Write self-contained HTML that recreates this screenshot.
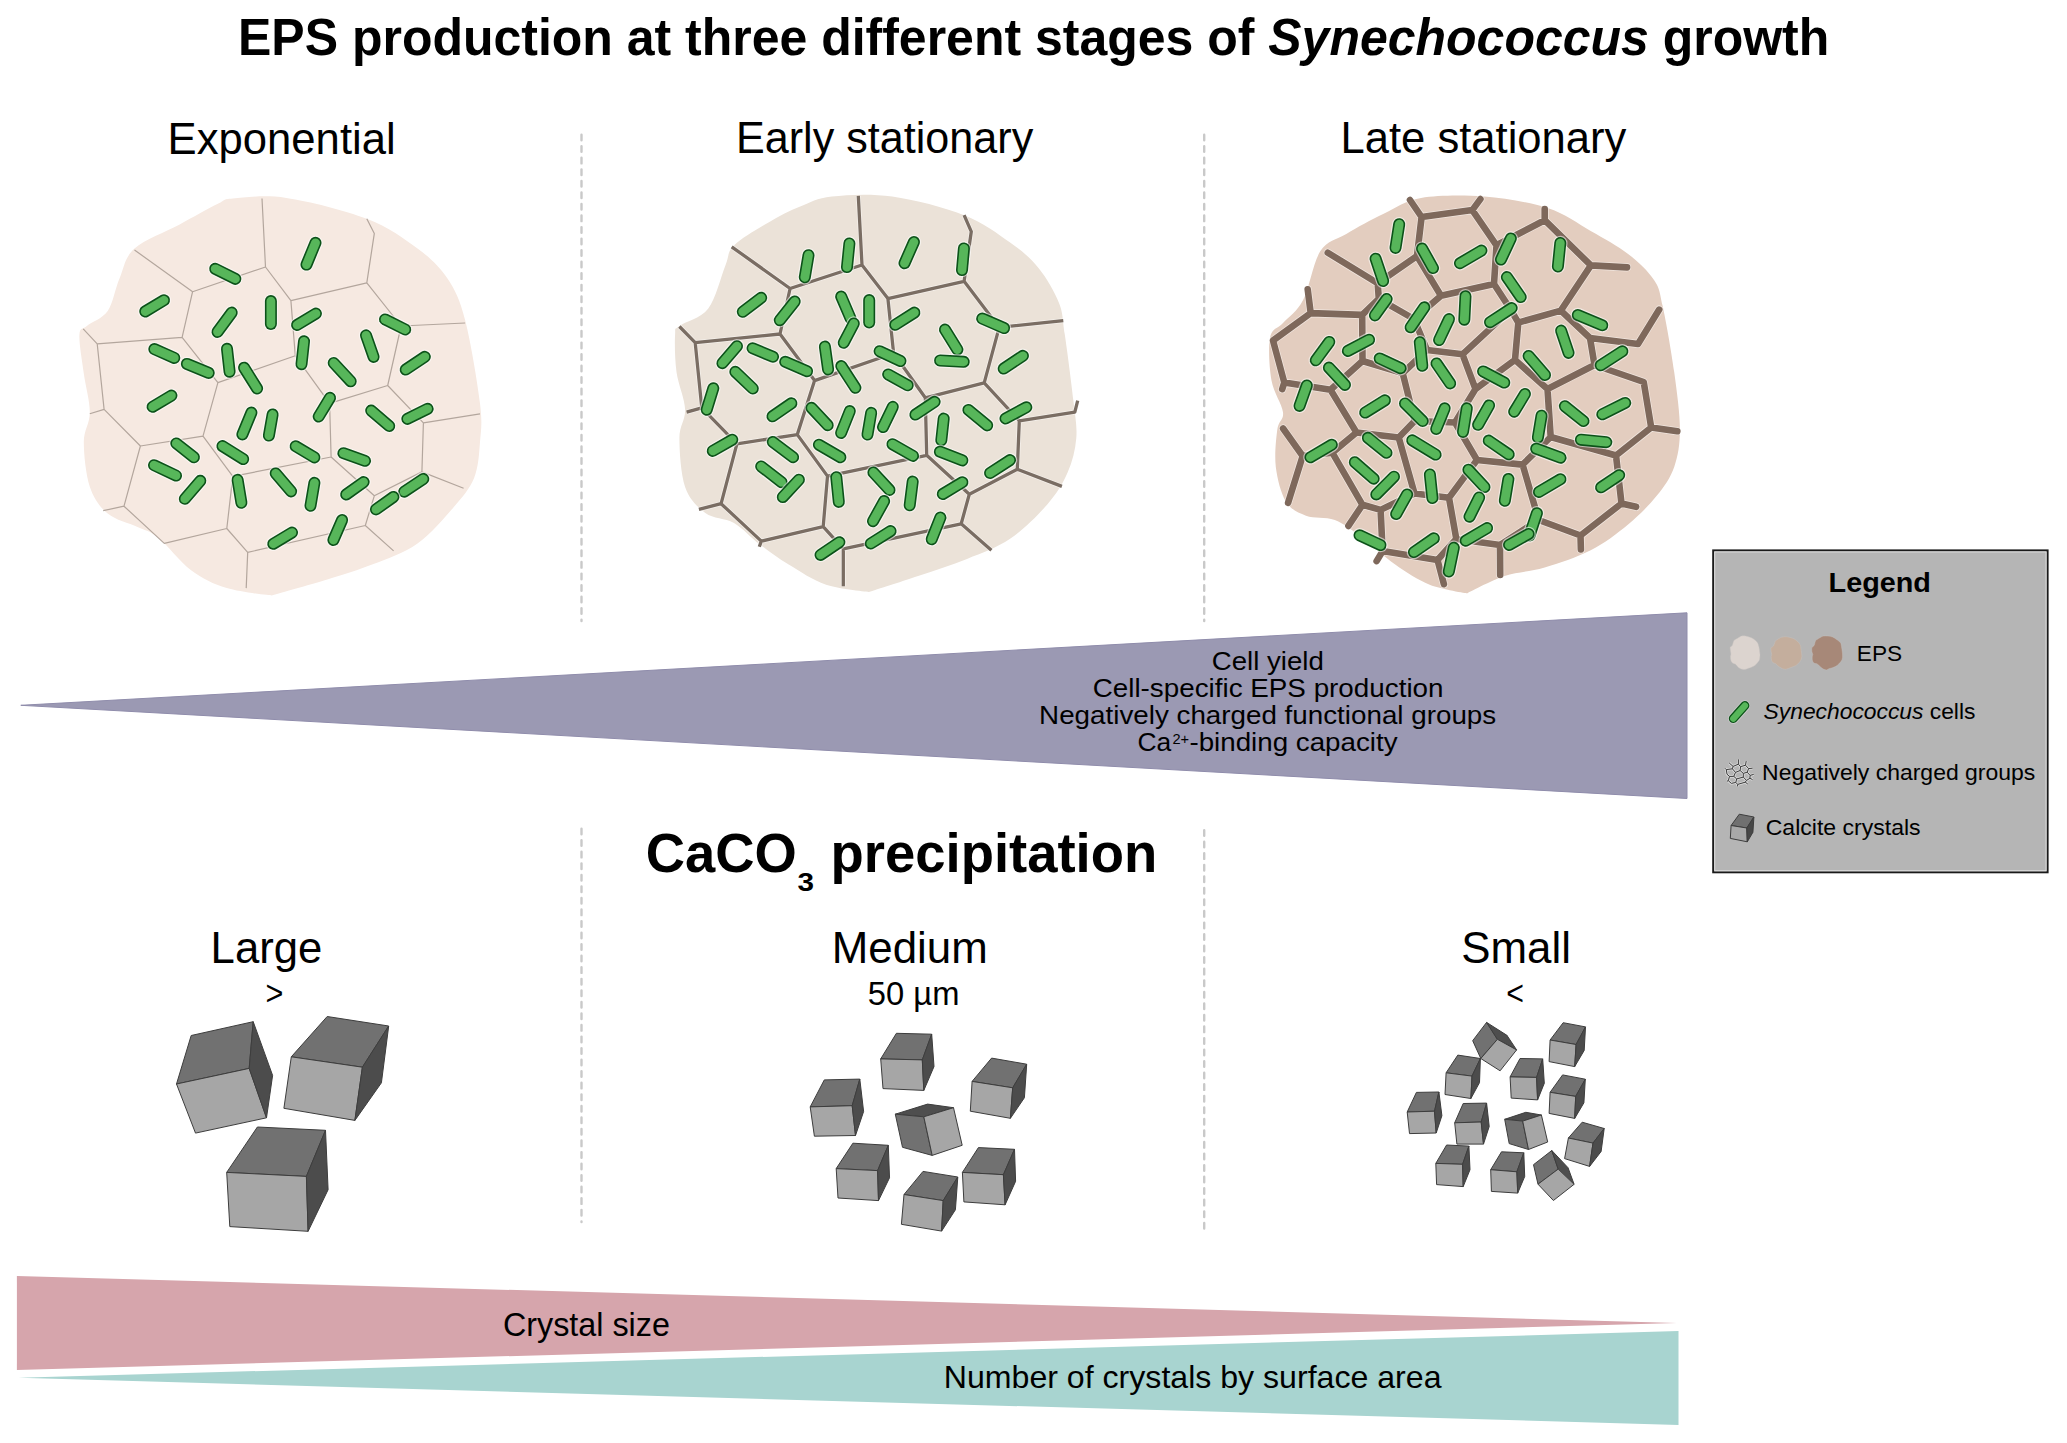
<!DOCTYPE html><html><head><meta charset="utf-8"><style>html,body{margin:0;padding:0;background:#fff;overflow:hidden}svg{display:block}text{font-family:"Liberation Sans",sans-serif}</style></head><body>
<svg width="2067" height="1443" viewBox="0 0 2067 1443">
<rect width="2067" height="1443" fill="#fff"/>
<text x="238" y="55.4" font-size="51.5" fill="#000" textLength="1591.3" lengthAdjust="spacingAndGlyphs" xml:space="preserve"><tspan font-style="normal" font-weight="bold">EPS production at three different stages of </tspan><tspan font-style="italic" font-weight="bold">Synechococcus</tspan><tspan font-style="normal" font-weight="bold"> growth</tspan></text>
<text x="167.6" y="153.7" font-size="43.5" fill="#000" textLength="228.1" lengthAdjust="spacingAndGlyphs" xml:space="preserve"><tspan font-style="normal" font-weight="normal">Exponential</tspan></text>
<text x="736" y="153" font-size="43.5" fill="#000" textLength="297.2" lengthAdjust="spacingAndGlyphs" xml:space="preserve"><tspan font-style="normal" font-weight="normal">Early stationary</tspan></text>
<text x="1340.5" y="152.8" font-size="43.5" fill="#000" textLength="285.8" lengthAdjust="spacingAndGlyphs" xml:space="preserve"><tspan font-style="normal" font-weight="normal">Late stationary</tspan></text>
<line x1="581.5" y1="134.7" x2="581.5" y2="621" stroke="#c9c9c9" stroke-width="2.4" stroke-dasharray="5.6 5.95" stroke-linecap="round"/>
<line x1="1204.2" y1="134.7" x2="1204.2" y2="621" stroke="#c9c9c9" stroke-width="2.4" stroke-dasharray="5.6 5.95" stroke-linecap="round"/>
<line x1="581.5" y1="828.7" x2="581.5" y2="1222" stroke="#c9c9c9" stroke-width="2.4" stroke-dasharray="5.6 5.95" stroke-linecap="round"/>
<line x1="1204.2" y1="830.2" x2="1204.2" y2="1233" stroke="#c9c9c9" stroke-width="2.4" stroke-dasharray="5.6 5.95" stroke-linecap="round"/>
<path d="M232.8,198.5 C244.2,197.5 264.1,194.5 286.4,197.9 C308.7,201.2 345,210.3 366.8,218.7 C388.7,227.2 404.1,238.6 417.5,248.5 C430.9,258.4 439.3,266.4 447.3,278.3 C455.2,290.2 459.7,299.2 465.1,320 C470.6,340.9 477.5,383.1 480,403.4 C482.5,423.8 481,429.7 480,442.1 C479,454.6 478.5,467 474.1,477.9 C469.6,488.8 462.6,496.8 453.2,507.7 C443.8,518.6 430.9,534 417.5,543.4 C404.1,552.9 387.7,558.3 372.8,564.3 C357.9,570.2 345,574 328.1,579.2 C311.2,584.4 271.5,595.5 271.5,595.5 C271.5,595.5 240.2,592.3 226.8,588.1 C213.4,583.9 202.5,578.7 191.1,570.2 C179.7,561.8 167.2,544.7 158.3,537.5 C149.4,530.3 145.9,531 137.5,527 C129,523.1 115.6,520.3 107.7,513.6 C99.7,506.9 93.8,498.7 89.8,486.8 C85.8,474.9 83.8,454.6 83.8,442.1 C83.8,429.7 89.8,423.8 89.8,412.4 C89.8,400.9 85.6,386.5 83.8,373.6 C82.1,360.7 78.9,342.8 79.4,334.9 C79.9,327 82.1,329.9 86.8,326 C91.5,322 102.2,319 107.7,311.1 C113.1,303.1 115.1,288.7 119.6,278.3 C124,267.9 124.5,257.5 134.5,248.5 C144.4,239.6 165.3,232.1 179.2,224.7 C193.1,217.2 208.9,208.2 217.9,203.8 C226.8,199.5 221.4,199.5 232.8,198.5 Z" fill="#f6e9e1"/>
<path d="M262,198.5 L265.5,267 L192.6,291.7 L134.5,250 M192.6,291.7 L182.1,337.3 L97.2,343.8 L83.2,328.9 M97.2,343.8 L104.1,409.4 L89.8,413.8 M104.1,409.4 L140.4,446 L203,436.2 M140.4,446 L124,506.2 L103.2,510.7 M124,506.2 L164.3,543.4 L226.8,528.5 L247.7,552.4 L246.2,588.1 M247.7,552.4 L365.3,525.5 L393.6,550.9 M365.3,525.5 L374.3,495.8 L421.9,471.9 L463.6,488.3 M421.9,471.9 L423.4,422.8 L480,413.8 M423.4,422.8 L387.7,385.5 L401.1,326 L465.1,323 M401.1,326 L366.8,282.8 L374.3,233.6 L366.8,218.7 M366.8,282.8 L290.9,300.6 L265.5,267 M290.9,300.6 L295.3,355.8 L217.9,382.6 L182.1,337.3 M217.9,382.6 L203,436.2 L232.8,476.4 L226.8,528.5 M232.8,476.4 L331.1,457 L374.3,495.8 M331.1,457 L329.6,403.4 L387.7,385.5 M329.6,403.4 L295.3,355.8" fill="none" stroke="#b3a69d" stroke-width="1.2" stroke-linejoin="round" stroke-linecap="butt"/>
<line x1="315.5" y1="242.8" x2="306.5" y2="264.6" stroke="#fff" stroke-opacity="0.55" stroke-width="14.4" stroke-linecap="round"/>
<line x1="315.5" y1="242.8" x2="306.5" y2="264.6" stroke="#0c5219" stroke-width="12.0" stroke-linecap="round"/>
<line x1="315.5" y1="242.8" x2="306.5" y2="264.6" stroke="#57b65a" stroke-width="8.8" stroke-linecap="round"/>
<line x1="215.2" y1="268.8" x2="235.4" y2="278.9" stroke="#fff" stroke-opacity="0.55" stroke-width="14.4" stroke-linecap="round"/>
<line x1="215.2" y1="268.8" x2="235.4" y2="278.9" stroke="#0c5219" stroke-width="12.0" stroke-linecap="round"/>
<line x1="215.2" y1="268.8" x2="235.4" y2="278.9" stroke="#57b65a" stroke-width="8.8" stroke-linecap="round"/>
<line x1="164" y1="300.2" x2="145.2" y2="311.5" stroke="#fff" stroke-opacity="0.55" stroke-width="14.4" stroke-linecap="round"/>
<line x1="164" y1="300.2" x2="145.2" y2="311.5" stroke="#0c5219" stroke-width="12.0" stroke-linecap="round"/>
<line x1="164" y1="300.2" x2="145.2" y2="311.5" stroke="#57b65a" stroke-width="8.8" stroke-linecap="round"/>
<line x1="270.9" y1="301.1" x2="270.9" y2="324" stroke="#fff" stroke-opacity="0.55" stroke-width="14.4" stroke-linecap="round"/>
<line x1="270.9" y1="301.1" x2="270.9" y2="324" stroke="#0c5219" stroke-width="12.0" stroke-linecap="round"/>
<line x1="270.9" y1="301.1" x2="270.9" y2="324" stroke="#57b65a" stroke-width="8.8" stroke-linecap="round"/>
<line x1="231.7" y1="312.6" x2="217.5" y2="331.9" stroke="#fff" stroke-opacity="0.55" stroke-width="14.4" stroke-linecap="round"/>
<line x1="231.7" y1="312.6" x2="217.5" y2="331.9" stroke="#0c5219" stroke-width="12.0" stroke-linecap="round"/>
<line x1="231.7" y1="312.6" x2="217.5" y2="331.9" stroke="#57b65a" stroke-width="8.8" stroke-linecap="round"/>
<line x1="315.9" y1="313.6" x2="297.1" y2="324.9" stroke="#fff" stroke-opacity="0.55" stroke-width="14.4" stroke-linecap="round"/>
<line x1="315.9" y1="313.6" x2="297.1" y2="324.9" stroke="#0c5219" stroke-width="12.0" stroke-linecap="round"/>
<line x1="315.9" y1="313.6" x2="297.1" y2="324.9" stroke="#57b65a" stroke-width="8.8" stroke-linecap="round"/>
<line x1="385" y1="319.4" x2="405.2" y2="329.5" stroke="#fff" stroke-opacity="0.55" stroke-width="14.4" stroke-linecap="round"/>
<line x1="385" y1="319.4" x2="405.2" y2="329.5" stroke="#0c5219" stroke-width="12.0" stroke-linecap="round"/>
<line x1="385" y1="319.4" x2="405.2" y2="329.5" stroke="#57b65a" stroke-width="8.8" stroke-linecap="round"/>
<line x1="154.3" y1="349.1" x2="174.3" y2="357.9" stroke="#fff" stroke-opacity="0.55" stroke-width="14.4" stroke-linecap="round"/>
<line x1="154.3" y1="349.1" x2="174.3" y2="357.9" stroke="#0c5219" stroke-width="12.0" stroke-linecap="round"/>
<line x1="154.3" y1="349.1" x2="174.3" y2="357.9" stroke="#57b65a" stroke-width="8.8" stroke-linecap="round"/>
<line x1="186.9" y1="363.9" x2="208.7" y2="372.9" stroke="#fff" stroke-opacity="0.55" stroke-width="14.4" stroke-linecap="round"/>
<line x1="186.9" y1="363.9" x2="208.7" y2="372.9" stroke="#0c5219" stroke-width="12.0" stroke-linecap="round"/>
<line x1="186.9" y1="363.9" x2="208.7" y2="372.9" stroke="#57b65a" stroke-width="8.8" stroke-linecap="round"/>
<line x1="227" y1="348.8" x2="229.6" y2="371.7" stroke="#fff" stroke-opacity="0.55" stroke-width="14.4" stroke-linecap="round"/>
<line x1="227" y1="348.8" x2="229.6" y2="371.7" stroke="#0c5219" stroke-width="12.0" stroke-linecap="round"/>
<line x1="227" y1="348.8" x2="229.6" y2="371.7" stroke="#57b65a" stroke-width="8.8" stroke-linecap="round"/>
<line x1="304" y1="341.3" x2="301.5" y2="364.2" stroke="#fff" stroke-opacity="0.55" stroke-width="14.4" stroke-linecap="round"/>
<line x1="304" y1="341.3" x2="301.5" y2="364.2" stroke="#0c5219" stroke-width="12.0" stroke-linecap="round"/>
<line x1="304" y1="341.3" x2="301.5" y2="364.2" stroke="#57b65a" stroke-width="8.8" stroke-linecap="round"/>
<line x1="366" y1="335.3" x2="373.6" y2="356.9" stroke="#fff" stroke-opacity="0.55" stroke-width="14.4" stroke-linecap="round"/>
<line x1="366" y1="335.3" x2="373.6" y2="356.9" stroke="#0c5219" stroke-width="12.0" stroke-linecap="round"/>
<line x1="366" y1="335.3" x2="373.6" y2="356.9" stroke="#57b65a" stroke-width="8.8" stroke-linecap="round"/>
<line x1="424.8" y1="356.8" x2="405.7" y2="369.6" stroke="#fff" stroke-opacity="0.55" stroke-width="14.4" stroke-linecap="round"/>
<line x1="424.8" y1="356.8" x2="405.7" y2="369.6" stroke="#0c5219" stroke-width="12.0" stroke-linecap="round"/>
<line x1="424.8" y1="356.8" x2="405.7" y2="369.6" stroke="#57b65a" stroke-width="8.8" stroke-linecap="round"/>
<line x1="244.1" y1="367.7" x2="257.1" y2="388.5" stroke="#fff" stroke-opacity="0.55" stroke-width="14.4" stroke-linecap="round"/>
<line x1="244.1" y1="367.7" x2="257.1" y2="388.5" stroke="#0c5219" stroke-width="12.0" stroke-linecap="round"/>
<line x1="244.1" y1="367.7" x2="257.1" y2="388.5" stroke="#57b65a" stroke-width="8.8" stroke-linecap="round"/>
<line x1="333.7" y1="363" x2="350.7" y2="381.3" stroke="#fff" stroke-opacity="0.55" stroke-width="14.4" stroke-linecap="round"/>
<line x1="333.7" y1="363" x2="350.7" y2="381.3" stroke="#0c5219" stroke-width="12.0" stroke-linecap="round"/>
<line x1="333.7" y1="363" x2="350.7" y2="381.3" stroke="#57b65a" stroke-width="8.8" stroke-linecap="round"/>
<line x1="171.4" y1="395.6" x2="152.6" y2="406.8" stroke="#fff" stroke-opacity="0.55" stroke-width="14.4" stroke-linecap="round"/>
<line x1="171.4" y1="395.6" x2="152.6" y2="406.8" stroke="#0c5219" stroke-width="12.0" stroke-linecap="round"/>
<line x1="171.4" y1="395.6" x2="152.6" y2="406.8" stroke="#57b65a" stroke-width="8.8" stroke-linecap="round"/>
<line x1="330" y1="397.8" x2="318.7" y2="416.5" stroke="#fff" stroke-opacity="0.55" stroke-width="14.4" stroke-linecap="round"/>
<line x1="330" y1="397.8" x2="318.7" y2="416.5" stroke="#0c5219" stroke-width="12.0" stroke-linecap="round"/>
<line x1="330" y1="397.8" x2="318.7" y2="416.5" stroke="#57b65a" stroke-width="8.8" stroke-linecap="round"/>
<line x1="251.4" y1="412.6" x2="242.4" y2="434.4" stroke="#fff" stroke-opacity="0.55" stroke-width="14.4" stroke-linecap="round"/>
<line x1="251.4" y1="412.6" x2="242.4" y2="434.4" stroke="#0c5219" stroke-width="12.0" stroke-linecap="round"/>
<line x1="251.4" y1="412.6" x2="242.4" y2="434.4" stroke="#57b65a" stroke-width="8.8" stroke-linecap="round"/>
<line x1="272.6" y1="414.5" x2="268.9" y2="435.6" stroke="#fff" stroke-opacity="0.55" stroke-width="14.4" stroke-linecap="round"/>
<line x1="272.6" y1="414.5" x2="268.9" y2="435.6" stroke="#0c5219" stroke-width="12.0" stroke-linecap="round"/>
<line x1="272.6" y1="414.5" x2="268.9" y2="435.6" stroke="#57b65a" stroke-width="8.8" stroke-linecap="round"/>
<line x1="371.2" y1="410.6" x2="389.2" y2="426" stroke="#fff" stroke-opacity="0.55" stroke-width="14.4" stroke-linecap="round"/>
<line x1="371.2" y1="410.6" x2="389.2" y2="426" stroke="#0c5219" stroke-width="12.0" stroke-linecap="round"/>
<line x1="371.2" y1="410.6" x2="389.2" y2="426" stroke="#57b65a" stroke-width="8.8" stroke-linecap="round"/>
<line x1="427.6" y1="408.8" x2="407.3" y2="418.9" stroke="#fff" stroke-opacity="0.55" stroke-width="14.4" stroke-linecap="round"/>
<line x1="427.6" y1="408.8" x2="407.3" y2="418.9" stroke="#0c5219" stroke-width="12.0" stroke-linecap="round"/>
<line x1="427.6" y1="408.8" x2="407.3" y2="418.9" stroke="#57b65a" stroke-width="8.8" stroke-linecap="round"/>
<line x1="176.3" y1="443.4" x2="193.9" y2="457.3" stroke="#fff" stroke-opacity="0.55" stroke-width="14.4" stroke-linecap="round"/>
<line x1="176.3" y1="443.4" x2="193.9" y2="457.3" stroke="#0c5219" stroke-width="12.0" stroke-linecap="round"/>
<line x1="176.3" y1="443.4" x2="193.9" y2="457.3" stroke="#57b65a" stroke-width="8.8" stroke-linecap="round"/>
<line x1="222.4" y1="446.1" x2="243.2" y2="459.1" stroke="#fff" stroke-opacity="0.55" stroke-width="14.4" stroke-linecap="round"/>
<line x1="222.4" y1="446.1" x2="243.2" y2="459.1" stroke="#0c5219" stroke-width="12.0" stroke-linecap="round"/>
<line x1="222.4" y1="446.1" x2="243.2" y2="459.1" stroke="#57b65a" stroke-width="8.8" stroke-linecap="round"/>
<line x1="295.6" y1="446.2" x2="314.4" y2="457.4" stroke="#fff" stroke-opacity="0.55" stroke-width="14.4" stroke-linecap="round"/>
<line x1="295.6" y1="446.2" x2="314.4" y2="457.4" stroke="#0c5219" stroke-width="12.0" stroke-linecap="round"/>
<line x1="295.6" y1="446.2" x2="314.4" y2="457.4" stroke="#57b65a" stroke-width="8.8" stroke-linecap="round"/>
<line x1="343.4" y1="453.2" x2="365" y2="460.8" stroke="#fff" stroke-opacity="0.55" stroke-width="14.4" stroke-linecap="round"/>
<line x1="343.4" y1="453.2" x2="365" y2="460.8" stroke="#0c5219" stroke-width="12.0" stroke-linecap="round"/>
<line x1="343.4" y1="453.2" x2="365" y2="460.8" stroke="#57b65a" stroke-width="8.8" stroke-linecap="round"/>
<line x1="154" y1="465.2" x2="176" y2="475.6" stroke="#fff" stroke-opacity="0.55" stroke-width="14.4" stroke-linecap="round"/>
<line x1="154" y1="465.2" x2="176" y2="475.6" stroke="#0c5219" stroke-width="12.0" stroke-linecap="round"/>
<line x1="154" y1="465.2" x2="176" y2="475.6" stroke="#57b65a" stroke-width="8.8" stroke-linecap="round"/>
<line x1="200.3" y1="480.8" x2="184.8" y2="498.8" stroke="#fff" stroke-opacity="0.55" stroke-width="14.4" stroke-linecap="round"/>
<line x1="200.3" y1="480.8" x2="184.8" y2="498.8" stroke="#0c5219" stroke-width="12.0" stroke-linecap="round"/>
<line x1="200.3" y1="480.8" x2="184.8" y2="498.8" stroke="#57b65a" stroke-width="8.8" stroke-linecap="round"/>
<line x1="237.6" y1="479.8" x2="241.4" y2="502.8" stroke="#fff" stroke-opacity="0.55" stroke-width="14.4" stroke-linecap="round"/>
<line x1="237.6" y1="479.8" x2="241.4" y2="502.8" stroke="#0c5219" stroke-width="12.0" stroke-linecap="round"/>
<line x1="237.6" y1="479.8" x2="241.4" y2="502.8" stroke="#57b65a" stroke-width="8.8" stroke-linecap="round"/>
<line x1="275.7" y1="473.4" x2="291.1" y2="491.4" stroke="#fff" stroke-opacity="0.55" stroke-width="14.4" stroke-linecap="round"/>
<line x1="275.7" y1="473.4" x2="291.1" y2="491.4" stroke="#0c5219" stroke-width="12.0" stroke-linecap="round"/>
<line x1="275.7" y1="473.4" x2="291.1" y2="491.4" stroke="#57b65a" stroke-width="8.8" stroke-linecap="round"/>
<line x1="314.4" y1="482.8" x2="310.5" y2="505.8" stroke="#fff" stroke-opacity="0.55" stroke-width="14.4" stroke-linecap="round"/>
<line x1="314.4" y1="482.8" x2="310.5" y2="505.8" stroke="#0c5219" stroke-width="12.0" stroke-linecap="round"/>
<line x1="314.4" y1="482.8" x2="310.5" y2="505.8" stroke="#57b65a" stroke-width="8.8" stroke-linecap="round"/>
<line x1="363.6" y1="482.1" x2="346.2" y2="494.5" stroke="#fff" stroke-opacity="0.55" stroke-width="14.4" stroke-linecap="round"/>
<line x1="363.6" y1="482.1" x2="346.2" y2="494.5" stroke="#0c5219" stroke-width="12.0" stroke-linecap="round"/>
<line x1="363.6" y1="482.1" x2="346.2" y2="494.5" stroke="#57b65a" stroke-width="8.8" stroke-linecap="round"/>
<line x1="423.3" y1="479" x2="404.2" y2="491.7" stroke="#fff" stroke-opacity="0.55" stroke-width="14.4" stroke-linecap="round"/>
<line x1="423.3" y1="479" x2="404.2" y2="491.7" stroke="#0c5219" stroke-width="12.0" stroke-linecap="round"/>
<line x1="423.3" y1="479" x2="404.2" y2="491.7" stroke="#57b65a" stroke-width="8.8" stroke-linecap="round"/>
<line x1="393.4" y1="497" x2="376" y2="509.4" stroke="#fff" stroke-opacity="0.55" stroke-width="14.4" stroke-linecap="round"/>
<line x1="393.4" y1="497" x2="376" y2="509.4" stroke="#0c5219" stroke-width="12.0" stroke-linecap="round"/>
<line x1="393.4" y1="497" x2="376" y2="509.4" stroke="#57b65a" stroke-width="8.8" stroke-linecap="round"/>
<line x1="342.1" y1="520" x2="333.4" y2="540" stroke="#fff" stroke-opacity="0.55" stroke-width="14.4" stroke-linecap="round"/>
<line x1="342.1" y1="520" x2="333.4" y2="540" stroke="#0c5219" stroke-width="12.0" stroke-linecap="round"/>
<line x1="342.1" y1="520" x2="333.4" y2="540" stroke="#57b65a" stroke-width="8.8" stroke-linecap="round"/>
<line x1="292" y1="532.6" x2="273.3" y2="543.8" stroke="#fff" stroke-opacity="0.55" stroke-width="14.4" stroke-linecap="round"/>
<line x1="292" y1="532.6" x2="273.3" y2="543.8" stroke="#0c5219" stroke-width="12.0" stroke-linecap="round"/>
<line x1="292" y1="532.6" x2="273.3" y2="543.8" stroke="#57b65a" stroke-width="8.8" stroke-linecap="round"/>
<path d="M831.8,196.5 C847.1,194.8 870.2,193.4 892.2,196.5 C914.3,199.6 944.5,207.5 964.1,215.2 C983.8,222.9 997.7,233.7 1010.1,242.5 C1022.6,251.4 1030.7,258.3 1038.9,268.4 C1047,278.5 1054.7,291.9 1059,302.9 C1063.3,313.9 1062.4,318.3 1064.8,334.6 C1067.2,350.9 1071.5,383.4 1073.4,400.7 C1075.3,418 1077.2,426.1 1076.3,438.1 C1075.3,450.1 1072.4,461.6 1067.6,472.6 C1062.9,483.6 1057.1,493.2 1047.5,504.2 C1037.9,515.3 1023.5,529.6 1010.1,538.8 C996.7,547.9 982.3,552.7 967,558.9 C951.6,565.1 934.4,570.6 918.1,576.1 C901.8,581.7 869.2,592 869.2,592 C869.2,592 839.5,589.3 826.1,584.8 C812.6,580.2 799.7,571.3 788.7,564.6 C777.6,557.9 769,551.5 759.9,544.5 C750.8,537.6 743.1,528.2 734,522.9 C724.9,517.7 713.4,518.9 705.3,512.9 C697.1,506.9 689.4,499.4 685.1,487 C680.8,474.5 679.4,451 679.4,438.1 C679.4,425.1 685.6,420.4 685.1,409.3 C684.7,398.3 678.2,384.4 676.5,371.9 C674.8,359.5 674.6,342.2 675.1,334.6 C675.5,326.9 673.9,330.2 679.4,325.9 C684.9,321.6 700.5,318.7 708.1,308.7 C715.8,298.6 721.1,276.1 725.4,265.5 C729.7,255 726.8,252.6 734,245.4 C741.2,238.2 757.5,228.9 768.5,222.4 C779.6,215.9 789.6,210.9 800.2,206.6 C810.7,202.3 816.5,198.2 831.8,196.5 Z" fill="#ebe2d8"/>
<path d="M858.3,195.9 L862,265 L790.1,288.5 L731.7,246.8 M790.1,288.5 L780,334 L695.2,342.6 L679.4,326.5 M695.2,342.6 L701.8,407.9 L686.6,412.2 M701.8,407.9 L736.9,443.8 L797.3,434.6 M736.9,443.8 L721.1,503.7 L698.9,509.4 M721.1,503.7 L761.3,541.1 L759.3,546.8 M761.3,541.1 L823.2,526.7 L843.3,548.8 L843.3,586.2 M843.3,548.8 L961.2,523.8 L991.4,550.3 M961.2,523.8 L969.3,494.2 L1017.3,469.2 L1061.9,486.4 M1017.3,469.2 L1019.3,420.8 L1074.8,412.2 L1077.7,400.7 M1019.3,420.8 L984.2,382.9 L999.2,327.4 L1063.3,320.7 M999.2,327.4 L964.1,281.3 L971.3,231.6 L964.1,215.2 M964.1,281.3 L887.9,298.6 L862,265 M887.9,298.6 L893.6,353.2 L814.6,380.6 L780,334 M814.6,380.6 L797.3,434.6 L827.5,476.1 L823.2,526.7 M827.5,476.1 L926.7,455.3 L969.3,494.2 M926.7,455.3 L925.3,397.8 L984.2,382.9 M925.3,397.8 L893.6,353.2" fill="none" stroke="#fff" stroke-opacity="0.5" stroke-width="4.8" stroke-linejoin="round" stroke-linecap="butt"/>
<path d="M858.3,195.9 L862,265 L790.1,288.5 L731.7,246.8 M790.1,288.5 L780,334 L695.2,342.6 L679.4,326.5 M695.2,342.6 L701.8,407.9 L686.6,412.2 M701.8,407.9 L736.9,443.8 L797.3,434.6 M736.9,443.8 L721.1,503.7 L698.9,509.4 M721.1,503.7 L761.3,541.1 L759.3,546.8 M761.3,541.1 L823.2,526.7 L843.3,548.8 L843.3,586.2 M843.3,548.8 L961.2,523.8 L991.4,550.3 M961.2,523.8 L969.3,494.2 L1017.3,469.2 L1061.9,486.4 M1017.3,469.2 L1019.3,420.8 L1074.8,412.2 L1077.7,400.7 M1019.3,420.8 L984.2,382.9 L999.2,327.4 L1063.3,320.7 M999.2,327.4 L964.1,281.3 L971.3,231.6 L964.1,215.2 M964.1,281.3 L887.9,298.6 L862,265 M887.9,298.6 L893.6,353.2 L814.6,380.6 L780,334 M814.6,380.6 L797.3,434.6 L827.5,476.1 L823.2,526.7 M827.5,476.1 L926.7,455.3 L969.3,494.2 M926.7,455.3 L925.3,397.8 L984.2,382.9 M925.3,397.8 L893.6,353.2" fill="none" stroke="#7a6d63" stroke-width="3.3" stroke-linejoin="round" stroke-linecap="butt"/>
<line x1="913.9" y1="242" x2="904.5" y2="263.2" stroke="#fff" stroke-opacity="0.55" stroke-width="14.4" stroke-linecap="round"/>
<line x1="913.9" y1="242" x2="904.5" y2="263.2" stroke="#0c5219" stroke-width="12.0" stroke-linecap="round"/>
<line x1="913.9" y1="242" x2="904.5" y2="263.2" stroke="#57b65a" stroke-width="8.8" stroke-linecap="round"/>
<line x1="808.5" y1="255.2" x2="804.8" y2="277.3" stroke="#fff" stroke-opacity="0.55" stroke-width="14.4" stroke-linecap="round"/>
<line x1="808.5" y1="255.2" x2="804.8" y2="277.3" stroke="#0c5219" stroke-width="12.0" stroke-linecap="round"/>
<line x1="808.5" y1="255.2" x2="804.8" y2="277.3" stroke="#57b65a" stroke-width="8.8" stroke-linecap="round"/>
<line x1="849.4" y1="243.5" x2="847" y2="267.1" stroke="#fff" stroke-opacity="0.55" stroke-width="14.4" stroke-linecap="round"/>
<line x1="849.4" y1="243.5" x2="847" y2="267.1" stroke="#0c5219" stroke-width="12.0" stroke-linecap="round"/>
<line x1="849.4" y1="243.5" x2="847" y2="267.1" stroke="#57b65a" stroke-width="8.8" stroke-linecap="round"/>
<line x1="963.9" y1="248.4" x2="962" y2="270.1" stroke="#fff" stroke-opacity="0.55" stroke-width="14.4" stroke-linecap="round"/>
<line x1="963.9" y1="248.4" x2="962" y2="270.1" stroke="#0c5219" stroke-width="12.0" stroke-linecap="round"/>
<line x1="963.9" y1="248.4" x2="962" y2="270.1" stroke="#57b65a" stroke-width="8.8" stroke-linecap="round"/>
<line x1="761.2" y1="297.8" x2="742.8" y2="311.8" stroke="#fff" stroke-opacity="0.55" stroke-width="14.4" stroke-linecap="round"/>
<line x1="761.2" y1="297.8" x2="742.8" y2="311.8" stroke="#0c5219" stroke-width="12.0" stroke-linecap="round"/>
<line x1="761.2" y1="297.8" x2="742.8" y2="311.8" stroke="#57b65a" stroke-width="8.8" stroke-linecap="round"/>
<line x1="794.7" y1="301.5" x2="779.8" y2="320.2" stroke="#fff" stroke-opacity="0.55" stroke-width="14.4" stroke-linecap="round"/>
<line x1="794.7" y1="301.5" x2="779.8" y2="320.2" stroke="#0c5219" stroke-width="12.0" stroke-linecap="round"/>
<line x1="794.7" y1="301.5" x2="779.8" y2="320.2" stroke="#57b65a" stroke-width="8.8" stroke-linecap="round"/>
<line x1="841.2" y1="296.6" x2="850.6" y2="318.5" stroke="#fff" stroke-opacity="0.55" stroke-width="14.4" stroke-linecap="round"/>
<line x1="841.2" y1="296.6" x2="850.6" y2="318.5" stroke="#0c5219" stroke-width="12.0" stroke-linecap="round"/>
<line x1="841.2" y1="296.6" x2="850.6" y2="318.5" stroke="#57b65a" stroke-width="8.8" stroke-linecap="round"/>
<line x1="869.2" y1="300.1" x2="869.2" y2="322.5" stroke="#fff" stroke-opacity="0.55" stroke-width="14.4" stroke-linecap="round"/>
<line x1="869.2" y1="300.1" x2="869.2" y2="322.5" stroke="#0c5219" stroke-width="12.0" stroke-linecap="round"/>
<line x1="869.2" y1="300.1" x2="869.2" y2="322.5" stroke="#57b65a" stroke-width="8.8" stroke-linecap="round"/>
<line x1="853.8" y1="323.5" x2="843.7" y2="342.8" stroke="#fff" stroke-opacity="0.55" stroke-width="14.4" stroke-linecap="round"/>
<line x1="853.8" y1="323.5" x2="843.7" y2="342.8" stroke="#0c5219" stroke-width="12.0" stroke-linecap="round"/>
<line x1="853.8" y1="323.5" x2="843.7" y2="342.8" stroke="#57b65a" stroke-width="8.8" stroke-linecap="round"/>
<line x1="914.4" y1="312.6" x2="895.3" y2="324.8" stroke="#fff" stroke-opacity="0.55" stroke-width="14.4" stroke-linecap="round"/>
<line x1="914.4" y1="312.6" x2="895.3" y2="324.8" stroke="#0c5219" stroke-width="12.0" stroke-linecap="round"/>
<line x1="914.4" y1="312.6" x2="895.3" y2="324.8" stroke="#57b65a" stroke-width="8.8" stroke-linecap="round"/>
<line x1="982.2" y1="318.6" x2="1004.1" y2="328.1" stroke="#fff" stroke-opacity="0.55" stroke-width="14.4" stroke-linecap="round"/>
<line x1="982.2" y1="318.6" x2="1004.1" y2="328.1" stroke="#0c5219" stroke-width="12.0" stroke-linecap="round"/>
<line x1="982.2" y1="318.6" x2="1004.1" y2="328.1" stroke="#57b65a" stroke-width="8.8" stroke-linecap="round"/>
<line x1="945" y1="329.6" x2="957.4" y2="349.6" stroke="#fff" stroke-opacity="0.55" stroke-width="14.4" stroke-linecap="round"/>
<line x1="945" y1="329.6" x2="957.4" y2="349.6" stroke="#0c5219" stroke-width="12.0" stroke-linecap="round"/>
<line x1="945" y1="329.6" x2="957.4" y2="349.6" stroke="#57b65a" stroke-width="8.8" stroke-linecap="round"/>
<line x1="737" y1="346.2" x2="722.4" y2="363.2" stroke="#fff" stroke-opacity="0.55" stroke-width="14.4" stroke-linecap="round"/>
<line x1="737" y1="346.2" x2="722.4" y2="363.2" stroke="#0c5219" stroke-width="12.0" stroke-linecap="round"/>
<line x1="737" y1="346.2" x2="722.4" y2="363.2" stroke="#57b65a" stroke-width="8.8" stroke-linecap="round"/>
<line x1="752.6" y1="348.3" x2="773" y2="356.8" stroke="#fff" stroke-opacity="0.55" stroke-width="14.4" stroke-linecap="round"/>
<line x1="752.6" y1="348.3" x2="773" y2="356.8" stroke="#0c5219" stroke-width="12.0" stroke-linecap="round"/>
<line x1="752.6" y1="348.3" x2="773" y2="356.8" stroke="#57b65a" stroke-width="8.8" stroke-linecap="round"/>
<line x1="785.2" y1="361.8" x2="807.1" y2="371.2" stroke="#fff" stroke-opacity="0.55" stroke-width="14.4" stroke-linecap="round"/>
<line x1="785.2" y1="361.8" x2="807.1" y2="371.2" stroke="#0c5219" stroke-width="12.0" stroke-linecap="round"/>
<line x1="785.2" y1="361.8" x2="807.1" y2="371.2" stroke="#57b65a" stroke-width="8.8" stroke-linecap="round"/>
<line x1="824.9" y1="346.6" x2="828.1" y2="369.4" stroke="#fff" stroke-opacity="0.55" stroke-width="14.4" stroke-linecap="round"/>
<line x1="824.9" y1="346.6" x2="828.1" y2="369.4" stroke="#0c5219" stroke-width="12.0" stroke-linecap="round"/>
<line x1="824.9" y1="346.6" x2="828.1" y2="369.4" stroke="#57b65a" stroke-width="8.8" stroke-linecap="round"/>
<line x1="879.6" y1="351.2" x2="900.5" y2="361" stroke="#fff" stroke-opacity="0.55" stroke-width="14.4" stroke-linecap="round"/>
<line x1="879.6" y1="351.2" x2="900.5" y2="361" stroke="#0c5219" stroke-width="12.0" stroke-linecap="round"/>
<line x1="879.6" y1="351.2" x2="900.5" y2="361" stroke="#57b65a" stroke-width="8.8" stroke-linecap="round"/>
<line x1="940.1" y1="360.5" x2="963.7" y2="361.8" stroke="#fff" stroke-opacity="0.55" stroke-width="14.4" stroke-linecap="round"/>
<line x1="940.1" y1="360.5" x2="963.7" y2="361.8" stroke="#0c5219" stroke-width="12.0" stroke-linecap="round"/>
<line x1="940.1" y1="360.5" x2="963.7" y2="361.8" stroke="#57b65a" stroke-width="8.8" stroke-linecap="round"/>
<line x1="1022.9" y1="355.8" x2="1003.7" y2="368.6" stroke="#fff" stroke-opacity="0.55" stroke-width="14.4" stroke-linecap="round"/>
<line x1="1022.9" y1="355.8" x2="1003.7" y2="368.6" stroke="#0c5219" stroke-width="12.0" stroke-linecap="round"/>
<line x1="1022.9" y1="355.8" x2="1003.7" y2="368.6" stroke="#57b65a" stroke-width="8.8" stroke-linecap="round"/>
<line x1="735.3" y1="371.8" x2="752.8" y2="388.5" stroke="#fff" stroke-opacity="0.55" stroke-width="14.4" stroke-linecap="round"/>
<line x1="735.3" y1="371.8" x2="752.8" y2="388.5" stroke="#0c5219" stroke-width="12.0" stroke-linecap="round"/>
<line x1="735.3" y1="371.8" x2="752.8" y2="388.5" stroke="#57b65a" stroke-width="8.8" stroke-linecap="round"/>
<line x1="841.3" y1="366.1" x2="855.4" y2="387.8" stroke="#fff" stroke-opacity="0.55" stroke-width="14.4" stroke-linecap="round"/>
<line x1="841.3" y1="366.1" x2="855.4" y2="387.8" stroke="#0c5219" stroke-width="12.0" stroke-linecap="round"/>
<line x1="841.3" y1="366.1" x2="855.4" y2="387.8" stroke="#57b65a" stroke-width="8.8" stroke-linecap="round"/>
<line x1="888.2" y1="374.4" x2="907.7" y2="385.3" stroke="#fff" stroke-opacity="0.55" stroke-width="14.4" stroke-linecap="round"/>
<line x1="888.2" y1="374.4" x2="907.7" y2="385.3" stroke="#0c5219" stroke-width="12.0" stroke-linecap="round"/>
<line x1="888.2" y1="374.4" x2="907.7" y2="385.3" stroke="#57b65a" stroke-width="8.8" stroke-linecap="round"/>
<line x1="713.3" y1="388.3" x2="706.7" y2="409.7" stroke="#fff" stroke-opacity="0.55" stroke-width="14.4" stroke-linecap="round"/>
<line x1="713.3" y1="388.3" x2="706.7" y2="409.7" stroke="#0c5219" stroke-width="12.0" stroke-linecap="round"/>
<line x1="713.3" y1="388.3" x2="706.7" y2="409.7" stroke="#57b65a" stroke-width="8.8" stroke-linecap="round"/>
<line x1="791.4" y1="403.3" x2="772.5" y2="416.3" stroke="#fff" stroke-opacity="0.55" stroke-width="14.4" stroke-linecap="round"/>
<line x1="791.4" y1="403.3" x2="772.5" y2="416.3" stroke="#0c5219" stroke-width="12.0" stroke-linecap="round"/>
<line x1="791.4" y1="403.3" x2="772.5" y2="416.3" stroke="#57b65a" stroke-width="8.8" stroke-linecap="round"/>
<line x1="811.5" y1="407.8" x2="827.7" y2="425.2" stroke="#fff" stroke-opacity="0.55" stroke-width="14.4" stroke-linecap="round"/>
<line x1="811.5" y1="407.8" x2="827.7" y2="425.2" stroke="#0c5219" stroke-width="12.0" stroke-linecap="round"/>
<line x1="811.5" y1="407.8" x2="827.7" y2="425.2" stroke="#57b65a" stroke-width="8.8" stroke-linecap="round"/>
<line x1="849.8" y1="411.1" x2="841.1" y2="432.9" stroke="#fff" stroke-opacity="0.55" stroke-width="14.4" stroke-linecap="round"/>
<line x1="849.8" y1="411.1" x2="841.1" y2="432.9" stroke="#0c5219" stroke-width="12.0" stroke-linecap="round"/>
<line x1="849.8" y1="411.1" x2="841.1" y2="432.9" stroke="#57b65a" stroke-width="8.8" stroke-linecap="round"/>
<line x1="871.2" y1="412.8" x2="867.5" y2="434.6" stroke="#fff" stroke-opacity="0.55" stroke-width="14.4" stroke-linecap="round"/>
<line x1="871.2" y1="412.8" x2="867.5" y2="434.6" stroke="#0c5219" stroke-width="12.0" stroke-linecap="round"/>
<line x1="871.2" y1="412.8" x2="867.5" y2="434.6" stroke="#57b65a" stroke-width="8.8" stroke-linecap="round"/>
<line x1="892.8" y1="406.8" x2="883" y2="427.1" stroke="#fff" stroke-opacity="0.55" stroke-width="14.4" stroke-linecap="round"/>
<line x1="892.8" y1="406.8" x2="883" y2="427.1" stroke="#0c5219" stroke-width="12.0" stroke-linecap="round"/>
<line x1="892.8" y1="406.8" x2="883" y2="427.1" stroke="#57b65a" stroke-width="8.8" stroke-linecap="round"/>
<line x1="934.6" y1="401.8" x2="915.4" y2="414.6" stroke="#fff" stroke-opacity="0.55" stroke-width="14.4" stroke-linecap="round"/>
<line x1="934.6" y1="401.8" x2="915.4" y2="414.6" stroke="#0c5219" stroke-width="12.0" stroke-linecap="round"/>
<line x1="934.6" y1="401.8" x2="915.4" y2="414.6" stroke="#57b65a" stroke-width="8.8" stroke-linecap="round"/>
<line x1="943.7" y1="418.6" x2="941.3" y2="440.3" stroke="#fff" stroke-opacity="0.55" stroke-width="14.4" stroke-linecap="round"/>
<line x1="943.7" y1="418.6" x2="941.3" y2="440.3" stroke="#0c5219" stroke-width="12.0" stroke-linecap="round"/>
<line x1="943.7" y1="418.6" x2="941.3" y2="440.3" stroke="#57b65a" stroke-width="8.8" stroke-linecap="round"/>
<line x1="968.4" y1="409.9" x2="987.2" y2="425.4" stroke="#fff" stroke-opacity="0.55" stroke-width="14.4" stroke-linecap="round"/>
<line x1="968.4" y1="409.9" x2="987.2" y2="425.4" stroke="#0c5219" stroke-width="12.0" stroke-linecap="round"/>
<line x1="968.4" y1="409.9" x2="987.2" y2="425.4" stroke="#57b65a" stroke-width="8.8" stroke-linecap="round"/>
<line x1="1026.3" y1="407.3" x2="1005.5" y2="418.5" stroke="#fff" stroke-opacity="0.55" stroke-width="14.4" stroke-linecap="round"/>
<line x1="1026.3" y1="407.3" x2="1005.5" y2="418.5" stroke="#0c5219" stroke-width="12.0" stroke-linecap="round"/>
<line x1="1026.3" y1="407.3" x2="1005.5" y2="418.5" stroke="#57b65a" stroke-width="8.8" stroke-linecap="round"/>
<line x1="732.3" y1="439.7" x2="712.8" y2="450.9" stroke="#fff" stroke-opacity="0.55" stroke-width="14.4" stroke-linecap="round"/>
<line x1="732.3" y1="439.7" x2="712.8" y2="450.9" stroke="#0c5219" stroke-width="12.0" stroke-linecap="round"/>
<line x1="732.3" y1="439.7" x2="712.8" y2="450.9" stroke="#57b65a" stroke-width="8.8" stroke-linecap="round"/>
<line x1="772.8" y1="442" x2="793.1" y2="457.2" stroke="#fff" stroke-opacity="0.55" stroke-width="14.4" stroke-linecap="round"/>
<line x1="772.8" y1="442" x2="793.1" y2="457.2" stroke="#0c5219" stroke-width="12.0" stroke-linecap="round"/>
<line x1="772.8" y1="442" x2="793.1" y2="457.2" stroke="#57b65a" stroke-width="8.8" stroke-linecap="round"/>
<line x1="818.9" y1="444.7" x2="840.4" y2="457.3" stroke="#fff" stroke-opacity="0.55" stroke-width="14.4" stroke-linecap="round"/>
<line x1="818.9" y1="444.7" x2="840.4" y2="457.3" stroke="#0c5219" stroke-width="12.0" stroke-linecap="round"/>
<line x1="818.9" y1="444.7" x2="840.4" y2="457.3" stroke="#57b65a" stroke-width="8.8" stroke-linecap="round"/>
<line x1="892.4" y1="444.2" x2="913" y2="455.9" stroke="#fff" stroke-opacity="0.55" stroke-width="14.4" stroke-linecap="round"/>
<line x1="892.4" y1="444.2" x2="913" y2="455.9" stroke="#0c5219" stroke-width="12.0" stroke-linecap="round"/>
<line x1="892.4" y1="444.2" x2="913" y2="455.9" stroke="#57b65a" stroke-width="8.8" stroke-linecap="round"/>
<line x1="939.9" y1="451.7" x2="962.4" y2="460.4" stroke="#fff" stroke-opacity="0.55" stroke-width="14.4" stroke-linecap="round"/>
<line x1="939.9" y1="451.7" x2="962.4" y2="460.4" stroke="#0c5219" stroke-width="12.0" stroke-linecap="round"/>
<line x1="939.9" y1="451.7" x2="962.4" y2="460.4" stroke="#57b65a" stroke-width="8.8" stroke-linecap="round"/>
<line x1="1010" y1="460.1" x2="990.1" y2="473" stroke="#fff" stroke-opacity="0.55" stroke-width="14.4" stroke-linecap="round"/>
<line x1="1010" y1="460.1" x2="990.1" y2="473" stroke="#0c5219" stroke-width="12.0" stroke-linecap="round"/>
<line x1="1010" y1="460.1" x2="990.1" y2="473" stroke="#57b65a" stroke-width="8.8" stroke-linecap="round"/>
<line x1="761.2" y1="466.4" x2="781.6" y2="482.2" stroke="#fff" stroke-opacity="0.55" stroke-width="14.4" stroke-linecap="round"/>
<line x1="761.2" y1="466.4" x2="781.6" y2="482.2" stroke="#0c5219" stroke-width="12.0" stroke-linecap="round"/>
<line x1="761.2" y1="466.4" x2="781.6" y2="482.2" stroke="#57b65a" stroke-width="8.8" stroke-linecap="round"/>
<line x1="798.9" y1="479.7" x2="782.8" y2="497.1" stroke="#fff" stroke-opacity="0.55" stroke-width="14.4" stroke-linecap="round"/>
<line x1="798.9" y1="479.7" x2="782.8" y2="497.1" stroke="#0c5219" stroke-width="12.0" stroke-linecap="round"/>
<line x1="798.9" y1="479.7" x2="782.8" y2="497.1" stroke="#57b65a" stroke-width="8.8" stroke-linecap="round"/>
<line x1="836.3" y1="477.2" x2="838.8" y2="501.9" stroke="#fff" stroke-opacity="0.55" stroke-width="14.4" stroke-linecap="round"/>
<line x1="836.3" y1="477.2" x2="838.8" y2="501.9" stroke="#0c5219" stroke-width="12.0" stroke-linecap="round"/>
<line x1="836.3" y1="477.2" x2="838.8" y2="501.9" stroke="#57b65a" stroke-width="8.8" stroke-linecap="round"/>
<line x1="873.4" y1="472.5" x2="889.5" y2="489.9" stroke="#fff" stroke-opacity="0.55" stroke-width="14.4" stroke-linecap="round"/>
<line x1="873.4" y1="472.5" x2="889.5" y2="489.9" stroke="#0c5219" stroke-width="12.0" stroke-linecap="round"/>
<line x1="873.4" y1="472.5" x2="889.5" y2="489.9" stroke="#57b65a" stroke-width="8.8" stroke-linecap="round"/>
<line x1="912.7" y1="481.6" x2="909.7" y2="505.3" stroke="#fff" stroke-opacity="0.55" stroke-width="14.4" stroke-linecap="round"/>
<line x1="912.7" y1="481.6" x2="909.7" y2="505.3" stroke="#0c5219" stroke-width="12.0" stroke-linecap="round"/>
<line x1="912.7" y1="481.6" x2="909.7" y2="505.3" stroke="#57b65a" stroke-width="8.8" stroke-linecap="round"/>
<line x1="962.4" y1="482.2" x2="942.8" y2="494" stroke="#fff" stroke-opacity="0.55" stroke-width="14.4" stroke-linecap="round"/>
<line x1="962.4" y1="482.2" x2="942.8" y2="494" stroke="#0c5219" stroke-width="12.0" stroke-linecap="round"/>
<line x1="962.4" y1="482.2" x2="942.8" y2="494" stroke="#57b65a" stroke-width="8.8" stroke-linecap="round"/>
<line x1="884.1" y1="501.1" x2="873" y2="521.2" stroke="#fff" stroke-opacity="0.55" stroke-width="14.4" stroke-linecap="round"/>
<line x1="884.1" y1="501.1" x2="873" y2="521.2" stroke="#0c5219" stroke-width="12.0" stroke-linecap="round"/>
<line x1="884.1" y1="501.1" x2="873" y2="521.2" stroke="#57b65a" stroke-width="8.8" stroke-linecap="round"/>
<line x1="940.4" y1="517.5" x2="931.7" y2="539.3" stroke="#fff" stroke-opacity="0.55" stroke-width="14.4" stroke-linecap="round"/>
<line x1="940.4" y1="517.5" x2="931.7" y2="539.3" stroke="#0c5219" stroke-width="12.0" stroke-linecap="round"/>
<line x1="940.4" y1="517.5" x2="931.7" y2="539.3" stroke="#57b65a" stroke-width="8.8" stroke-linecap="round"/>
<line x1="890.6" y1="531.1" x2="870.8" y2="543.5" stroke="#fff" stroke-opacity="0.55" stroke-width="14.4" stroke-linecap="round"/>
<line x1="890.6" y1="531.1" x2="870.8" y2="543.5" stroke="#0c5219" stroke-width="12.0" stroke-linecap="round"/>
<line x1="890.6" y1="531.1" x2="870.8" y2="543.5" stroke="#57b65a" stroke-width="8.8" stroke-linecap="round"/>
<line x1="839.4" y1="542.2" x2="820.5" y2="554.9" stroke="#fff" stroke-opacity="0.55" stroke-width="14.4" stroke-linecap="round"/>
<line x1="839.4" y1="542.2" x2="820.5" y2="554.9" stroke="#0c5219" stroke-width="12.0" stroke-linecap="round"/>
<line x1="839.4" y1="542.2" x2="820.5" y2="554.9" stroke="#57b65a" stroke-width="8.8" stroke-linecap="round"/>
<path d="M1421.1,197.9 C1437.8,195.1 1463.2,194.8 1484.3,196.5 C1505.4,198.2 1529.9,202.3 1547.6,208 C1565.3,213.8 1577.3,223.3 1590.7,231 C1604.2,238.7 1617.6,245.9 1628.1,254 C1638.7,262.2 1648.3,271.3 1654,279.9 C1659.8,288.5 1659.3,290.5 1662.6,305.8 C1666,321.1 1671.3,351.3 1674.2,371.9 C1677,392.6 1679.9,413.6 1679.9,429.5 C1679.9,445.3 1678,455.8 1674.2,466.9 C1670.3,477.9 1664.6,486 1656.9,495.6 C1649.2,505.2 1639.2,515.3 1628.1,524.4 C1617.1,533.5 1604.6,543.1 1590.7,550.3 C1576.8,557.4 1559.1,563.2 1544.7,567.5 C1530.3,571.8 1517.4,571.8 1504.5,576.1 C1491.5,580.5 1467.1,593.4 1467.1,593.4 C1467.1,593.4 1441.7,589.6 1429.7,584.8 C1417.7,580 1406.2,572.3 1395.2,564.6 C1384.1,557 1373.6,546.2 1363.5,538.8 C1353.5,531.3 1344.4,523.9 1334.8,520.1 C1325.2,516.2 1314.2,518.9 1306,515.7 C1297.9,512.6 1290.9,509.5 1285.9,501.4 C1280.9,493.2 1277.3,478.8 1275.8,466.9 C1274.4,454.9 1276.1,438.6 1277.3,429.5 C1278.5,420.4 1284,420.4 1283,412.2 C1282,404.1 1273.7,393 1271.5,380.6 C1269.3,368.1 1268.1,347 1270.1,337.4 C1272,327.8 1277.5,329.3 1283,323.1 C1288.5,316.8 1296.9,312 1303.1,300 C1309.4,288.1 1313.2,262.2 1320.4,251.1 C1327.6,240.1 1335.7,240.1 1346.3,233.9 C1356.8,227.7 1371.2,219.8 1383.7,213.8 C1396.1,207.8 1404.3,200.8 1421.1,197.9 Z" fill="#e3cdbf"/>
<path d="M1410,200 L1421.6,217 L1472.3,210.1 L1480.4,199.1 M1421.6,217 L1417,256 M1327.8,252.8 L1377.7,283.3 L1417,256 M1417,256 L1441,295.7 M1377.7,283.3 L1378.8,298.8 L1362.2,314.9 L1310.7,313.1 L1273,340.5 L1284.3,382.5 L1330.5,389.7 M1310.7,313.1 L1307.7,289.3 M1284.3,382.5 L1282.2,389.2 M1378.8,298.8 L1414,319 L1441,295.7 M1362.2,314.9 L1362.5,361 L1330.5,389.7 M1414,319 L1427,350 M1362.5,361 L1402.7,373.2 L1427,350 L1462.5,354.3 L1475.5,389 L1515,359.9 M1402.7,373.2 L1414.7,421 L1455,422.5 L1475.5,389 M1441,295.7 L1494,284 L1510.7,309.6 L1518.3,322.6 L1515,359.9 L1547.5,389 L1594.5,365 L1590,338 L1560.8,310.6 L1518.3,322.6 M1510.7,309.6 L1462.5,354.3 M1494,284 L1496.5,245.3 L1472.3,210.1 M1496.5,245.3 L1544.7,220.2 L1544.7,209.1 M1544.7,220.2 L1590.9,265.4 L1627.1,267.4 M1590.9,265.4 L1560.8,310.6 M1590,338 L1638,344 L1659.2,309.6 M1594.5,365 L1643.7,382 L1651.2,427.5 L1677.3,431.2 M1651.2,427.5 L1616,455.5 L1550.7,437 L1547.5,389 M1616,455.5 L1621.5,503.5 L1636.1,506.8 M1621.5,503.5 L1580.5,535.5 L1580.9,549.5 M1580.5,535.5 L1538.7,520 L1500,545 L1500.2,575 M1538.7,520 L1522.6,464.6 L1477,460 L1455,422.5 M1522.6,464.6 L1550.7,437 M1477,460 L1449,497.8 L1414.5,493.5 L1398.7,437.5 L1356.5,432.5 L1330.5,389.7 M1398.7,437.5 L1414.7,421 M1356.5,432.5 L1332.3,452.6 L1302.7,456 L1283.1,428.5 M1302.7,456 L1288.1,502.8 M1332.3,452.6 L1362.5,504.8 L1348.4,525.9 M1362.5,504.8 L1380.6,509.9 L1414.5,493.5 M1380.6,509.9 L1382.6,551.1 L1376.6,561.1 M1382.6,551.1 L1437.5,560 L1443.9,584.2 M1437.5,560 L1456.3,539 L1449,497.8 M1456.3,539 L1500,545" fill="none" stroke="#fff" stroke-opacity="0.5" stroke-width="8.1" stroke-linejoin="round" stroke-linecap="round"/>
<path d="M1410,200 L1421.6,217 L1472.3,210.1 L1480.4,199.1 M1421.6,217 L1417,256 M1327.8,252.8 L1377.7,283.3 L1417,256 M1417,256 L1441,295.7 M1377.7,283.3 L1378.8,298.8 L1362.2,314.9 L1310.7,313.1 L1273,340.5 L1284.3,382.5 L1330.5,389.7 M1310.7,313.1 L1307.7,289.3 M1284.3,382.5 L1282.2,389.2 M1378.8,298.8 L1414,319 L1441,295.7 M1362.2,314.9 L1362.5,361 L1330.5,389.7 M1414,319 L1427,350 M1362.5,361 L1402.7,373.2 L1427,350 L1462.5,354.3 L1475.5,389 L1515,359.9 M1402.7,373.2 L1414.7,421 L1455,422.5 L1475.5,389 M1441,295.7 L1494,284 L1510.7,309.6 L1518.3,322.6 L1515,359.9 L1547.5,389 L1594.5,365 L1590,338 L1560.8,310.6 L1518.3,322.6 M1510.7,309.6 L1462.5,354.3 M1494,284 L1496.5,245.3 L1472.3,210.1 M1496.5,245.3 L1544.7,220.2 L1544.7,209.1 M1544.7,220.2 L1590.9,265.4 L1627.1,267.4 M1590.9,265.4 L1560.8,310.6 M1590,338 L1638,344 L1659.2,309.6 M1594.5,365 L1643.7,382 L1651.2,427.5 L1677.3,431.2 M1651.2,427.5 L1616,455.5 L1550.7,437 L1547.5,389 M1616,455.5 L1621.5,503.5 L1636.1,506.8 M1621.5,503.5 L1580.5,535.5 L1580.9,549.5 M1580.5,535.5 L1538.7,520 L1500,545 L1500.2,575 M1538.7,520 L1522.6,464.6 L1477,460 L1455,422.5 M1522.6,464.6 L1550.7,437 M1477,460 L1449,497.8 L1414.5,493.5 L1398.7,437.5 L1356.5,432.5 L1330.5,389.7 M1398.7,437.5 L1414.7,421 M1356.5,432.5 L1332.3,452.6 L1302.7,456 L1283.1,428.5 M1302.7,456 L1288.1,502.8 M1332.3,452.6 L1362.5,504.8 L1348.4,525.9 M1362.5,504.8 L1380.6,509.9 L1414.5,493.5 M1380.6,509.9 L1382.6,551.1 L1376.6,561.1 M1382.6,551.1 L1437.5,560 L1443.9,584.2 M1437.5,560 L1456.3,539 L1449,497.8 M1456.3,539 L1500,545" fill="none" stroke="#7e685b" stroke-width="6.6" stroke-linejoin="round" stroke-linecap="round"/>
<line x1="1399.2" y1="224.2" x2="1395.5" y2="247.9" stroke="#fff" stroke-opacity="0.55" stroke-width="14.4" stroke-linecap="round"/>
<line x1="1399.2" y1="224.2" x2="1395.5" y2="247.9" stroke="#0c5219" stroke-width="12.0" stroke-linecap="round"/>
<line x1="1399.2" y1="224.2" x2="1395.5" y2="247.9" stroke="#57b65a" stroke-width="8.8" stroke-linecap="round"/>
<line x1="1375.6" y1="258.7" x2="1383.1" y2="281" stroke="#fff" stroke-opacity="0.55" stroke-width="14.4" stroke-linecap="round"/>
<line x1="1375.6" y1="258.7" x2="1383.1" y2="281" stroke="#0c5219" stroke-width="12.0" stroke-linecap="round"/>
<line x1="1375.6" y1="258.7" x2="1383.1" y2="281" stroke="#57b65a" stroke-width="8.8" stroke-linecap="round"/>
<line x1="1422.1" y1="248.6" x2="1433" y2="268.1" stroke="#fff" stroke-opacity="0.55" stroke-width="14.4" stroke-linecap="round"/>
<line x1="1422.1" y1="248.6" x2="1433" y2="268.1" stroke="#0c5219" stroke-width="12.0" stroke-linecap="round"/>
<line x1="1422.1" y1="248.6" x2="1433" y2="268.1" stroke="#57b65a" stroke-width="8.8" stroke-linecap="round"/>
<line x1="1481.4" y1="250.6" x2="1460" y2="263.2" stroke="#fff" stroke-opacity="0.55" stroke-width="14.4" stroke-linecap="round"/>
<line x1="1481.4" y1="250.6" x2="1460" y2="263.2" stroke="#0c5219" stroke-width="12.0" stroke-linecap="round"/>
<line x1="1481.4" y1="250.6" x2="1460" y2="263.2" stroke="#57b65a" stroke-width="8.8" stroke-linecap="round"/>
<line x1="1510.8" y1="238.5" x2="1501" y2="259.5" stroke="#fff" stroke-opacity="0.55" stroke-width="14.4" stroke-linecap="round"/>
<line x1="1510.8" y1="238.5" x2="1501" y2="259.5" stroke="#0c5219" stroke-width="12.0" stroke-linecap="round"/>
<line x1="1510.8" y1="238.5" x2="1501" y2="259.5" stroke="#57b65a" stroke-width="8.8" stroke-linecap="round"/>
<line x1="1560.3" y1="243" x2="1557.9" y2="266.5" stroke="#fff" stroke-opacity="0.55" stroke-width="14.4" stroke-linecap="round"/>
<line x1="1560.3" y1="243" x2="1557.9" y2="266.5" stroke="#0c5219" stroke-width="12.0" stroke-linecap="round"/>
<line x1="1560.3" y1="243" x2="1557.9" y2="266.5" stroke="#57b65a" stroke-width="8.8" stroke-linecap="round"/>
<line x1="1506.9" y1="277.1" x2="1520.7" y2="297.1" stroke="#fff" stroke-opacity="0.55" stroke-width="14.4" stroke-linecap="round"/>
<line x1="1506.9" y1="277.1" x2="1520.7" y2="297.1" stroke="#0c5219" stroke-width="12.0" stroke-linecap="round"/>
<line x1="1506.9" y1="277.1" x2="1520.7" y2="297.1" stroke="#57b65a" stroke-width="8.8" stroke-linecap="round"/>
<line x1="1386.7" y1="299" x2="1374.9" y2="315.4" stroke="#fff" stroke-opacity="0.55" stroke-width="14.4" stroke-linecap="round"/>
<line x1="1386.7" y1="299" x2="1374.9" y2="315.4" stroke="#0c5219" stroke-width="12.0" stroke-linecap="round"/>
<line x1="1386.7" y1="299" x2="1374.9" y2="315.4" stroke="#57b65a" stroke-width="8.8" stroke-linecap="round"/>
<line x1="1424.3" y1="307.3" x2="1410.6" y2="327.3" stroke="#fff" stroke-opacity="0.55" stroke-width="14.4" stroke-linecap="round"/>
<line x1="1424.3" y1="307.3" x2="1410.6" y2="327.3" stroke="#0c5219" stroke-width="12.0" stroke-linecap="round"/>
<line x1="1424.3" y1="307.3" x2="1410.6" y2="327.3" stroke="#57b65a" stroke-width="8.8" stroke-linecap="round"/>
<line x1="1465.5" y1="296.2" x2="1464.3" y2="319.7" stroke="#fff" stroke-opacity="0.55" stroke-width="14.4" stroke-linecap="round"/>
<line x1="1465.5" y1="296.2" x2="1464.3" y2="319.7" stroke="#0c5219" stroke-width="12.0" stroke-linecap="round"/>
<line x1="1465.5" y1="296.2" x2="1464.3" y2="319.7" stroke="#57b65a" stroke-width="8.8" stroke-linecap="round"/>
<line x1="1511.7" y1="308.1" x2="1490" y2="322.2" stroke="#fff" stroke-opacity="0.55" stroke-width="14.4" stroke-linecap="round"/>
<line x1="1511.7" y1="308.1" x2="1490" y2="322.2" stroke="#0c5219" stroke-width="12.0" stroke-linecap="round"/>
<line x1="1511.7" y1="308.1" x2="1490" y2="322.2" stroke="#57b65a" stroke-width="8.8" stroke-linecap="round"/>
<line x1="1577.8" y1="315" x2="1602.3" y2="325.3" stroke="#fff" stroke-opacity="0.55" stroke-width="14.4" stroke-linecap="round"/>
<line x1="1577.8" y1="315" x2="1602.3" y2="325.3" stroke="#0c5219" stroke-width="12.0" stroke-linecap="round"/>
<line x1="1577.8" y1="315" x2="1602.3" y2="325.3" stroke="#57b65a" stroke-width="8.8" stroke-linecap="round"/>
<line x1="1449" y1="319.1" x2="1439.1" y2="340" stroke="#fff" stroke-opacity="0.55" stroke-width="14.4" stroke-linecap="round"/>
<line x1="1449" y1="319.1" x2="1439.1" y2="340" stroke="#0c5219" stroke-width="12.0" stroke-linecap="round"/>
<line x1="1449" y1="319.1" x2="1439.1" y2="340" stroke="#57b65a" stroke-width="8.8" stroke-linecap="round"/>
<line x1="1329.3" y1="341.9" x2="1315.8" y2="360.3" stroke="#fff" stroke-opacity="0.55" stroke-width="14.4" stroke-linecap="round"/>
<line x1="1329.3" y1="341.9" x2="1315.8" y2="360.3" stroke="#0c5219" stroke-width="12.0" stroke-linecap="round"/>
<line x1="1329.3" y1="341.9" x2="1315.8" y2="360.3" stroke="#57b65a" stroke-width="8.8" stroke-linecap="round"/>
<line x1="1369.1" y1="339.7" x2="1347.9" y2="350.9" stroke="#fff" stroke-opacity="0.55" stroke-width="14.4" stroke-linecap="round"/>
<line x1="1369.1" y1="339.7" x2="1347.9" y2="350.9" stroke="#0c5219" stroke-width="12.0" stroke-linecap="round"/>
<line x1="1369.1" y1="339.7" x2="1347.9" y2="350.9" stroke="#57b65a" stroke-width="8.8" stroke-linecap="round"/>
<line x1="1419.8" y1="342.2" x2="1422.3" y2="365.8" stroke="#fff" stroke-opacity="0.55" stroke-width="14.4" stroke-linecap="round"/>
<line x1="1419.8" y1="342.2" x2="1422.3" y2="365.8" stroke="#0c5219" stroke-width="12.0" stroke-linecap="round"/>
<line x1="1419.8" y1="342.2" x2="1422.3" y2="365.8" stroke="#57b65a" stroke-width="8.8" stroke-linecap="round"/>
<line x1="1561.1" y1="330.6" x2="1568.6" y2="352.9" stroke="#fff" stroke-opacity="0.55" stroke-width="14.4" stroke-linecap="round"/>
<line x1="1561.1" y1="330.6" x2="1568.6" y2="352.9" stroke="#0c5219" stroke-width="12.0" stroke-linecap="round"/>
<line x1="1561.1" y1="330.6" x2="1568.6" y2="352.9" stroke="#57b65a" stroke-width="8.8" stroke-linecap="round"/>
<line x1="1622.4" y1="351.3" x2="1600.7" y2="365.3" stroke="#fff" stroke-opacity="0.55" stroke-width="14.4" stroke-linecap="round"/>
<line x1="1622.4" y1="351.3" x2="1600.7" y2="365.3" stroke="#0c5219" stroke-width="12.0" stroke-linecap="round"/>
<line x1="1622.4" y1="351.3" x2="1600.7" y2="365.3" stroke="#57b65a" stroke-width="8.8" stroke-linecap="round"/>
<line x1="1379.7" y1="358.4" x2="1400.6" y2="368.2" stroke="#fff" stroke-opacity="0.55" stroke-width="14.4" stroke-linecap="round"/>
<line x1="1379.7" y1="358.4" x2="1400.6" y2="368.2" stroke="#0c5219" stroke-width="12.0" stroke-linecap="round"/>
<line x1="1379.7" y1="358.4" x2="1400.6" y2="368.2" stroke="#57b65a" stroke-width="8.8" stroke-linecap="round"/>
<line x1="1528.6" y1="356" x2="1545" y2="375" stroke="#fff" stroke-opacity="0.55" stroke-width="14.4" stroke-linecap="round"/>
<line x1="1528.6" y1="356" x2="1545" y2="375" stroke="#0c5219" stroke-width="12.0" stroke-linecap="round"/>
<line x1="1528.6" y1="356" x2="1545" y2="375" stroke="#57b65a" stroke-width="8.8" stroke-linecap="round"/>
<line x1="1328.9" y1="367.6" x2="1345" y2="384.9" stroke="#fff" stroke-opacity="0.55" stroke-width="14.4" stroke-linecap="round"/>
<line x1="1328.9" y1="367.6" x2="1345" y2="384.9" stroke="#0c5219" stroke-width="12.0" stroke-linecap="round"/>
<line x1="1328.9" y1="367.6" x2="1345" y2="384.9" stroke="#57b65a" stroke-width="8.8" stroke-linecap="round"/>
<line x1="1436.5" y1="363.4" x2="1450.2" y2="383.4" stroke="#fff" stroke-opacity="0.55" stroke-width="14.4" stroke-linecap="round"/>
<line x1="1436.5" y1="363.4" x2="1450.2" y2="383.4" stroke="#0c5219" stroke-width="12.0" stroke-linecap="round"/>
<line x1="1436.5" y1="363.4" x2="1450.2" y2="383.4" stroke="#57b65a" stroke-width="8.8" stroke-linecap="round"/>
<line x1="1483.1" y1="371.4" x2="1504.3" y2="382.6" stroke="#fff" stroke-opacity="0.55" stroke-width="14.4" stroke-linecap="round"/>
<line x1="1483.1" y1="371.4" x2="1504.3" y2="382.6" stroke="#0c5219" stroke-width="12.0" stroke-linecap="round"/>
<line x1="1483.1" y1="371.4" x2="1504.3" y2="382.6" stroke="#57b65a" stroke-width="8.8" stroke-linecap="round"/>
<line x1="1306.8" y1="385.4" x2="1299.5" y2="405.9" stroke="#fff" stroke-opacity="0.55" stroke-width="14.4" stroke-linecap="round"/>
<line x1="1306.8" y1="385.4" x2="1299.5" y2="405.9" stroke="#0c5219" stroke-width="12.0" stroke-linecap="round"/>
<line x1="1306.8" y1="385.4" x2="1299.5" y2="405.9" stroke="#57b65a" stroke-width="8.8" stroke-linecap="round"/>
<line x1="1384.9" y1="400.3" x2="1365.2" y2="412.6" stroke="#fff" stroke-opacity="0.55" stroke-width="14.4" stroke-linecap="round"/>
<line x1="1384.9" y1="400.3" x2="1365.2" y2="412.6" stroke="#0c5219" stroke-width="12.0" stroke-linecap="round"/>
<line x1="1384.9" y1="400.3" x2="1365.2" y2="412.6" stroke="#57b65a" stroke-width="8.8" stroke-linecap="round"/>
<line x1="1405" y1="403.4" x2="1422.7" y2="421.1" stroke="#fff" stroke-opacity="0.55" stroke-width="14.4" stroke-linecap="round"/>
<line x1="1405" y1="403.4" x2="1422.7" y2="421.1" stroke="#0c5219" stroke-width="12.0" stroke-linecap="round"/>
<line x1="1405" y1="403.4" x2="1422.7" y2="421.1" stroke="#57b65a" stroke-width="8.8" stroke-linecap="round"/>
<line x1="1524.9" y1="394" x2="1514.2" y2="411.7" stroke="#fff" stroke-opacity="0.55" stroke-width="14.4" stroke-linecap="round"/>
<line x1="1524.9" y1="394" x2="1514.2" y2="411.7" stroke="#0c5219" stroke-width="12.0" stroke-linecap="round"/>
<line x1="1524.9" y1="394" x2="1514.2" y2="411.7" stroke="#57b65a" stroke-width="8.8" stroke-linecap="round"/>
<line x1="1564.9" y1="406.2" x2="1583.5" y2="421.1" stroke="#fff" stroke-opacity="0.55" stroke-width="14.4" stroke-linecap="round"/>
<line x1="1564.9" y1="406.2" x2="1583.5" y2="421.1" stroke="#0c5219" stroke-width="12.0" stroke-linecap="round"/>
<line x1="1564.9" y1="406.2" x2="1583.5" y2="421.1" stroke="#57b65a" stroke-width="8.8" stroke-linecap="round"/>
<line x1="1625.2" y1="402.9" x2="1602.3" y2="414.3" stroke="#fff" stroke-opacity="0.55" stroke-width="14.4" stroke-linecap="round"/>
<line x1="1625.2" y1="402.9" x2="1602.3" y2="414.3" stroke="#0c5219" stroke-width="12.0" stroke-linecap="round"/>
<line x1="1625.2" y1="402.9" x2="1602.3" y2="414.3" stroke="#57b65a" stroke-width="8.8" stroke-linecap="round"/>
<line x1="1444.7" y1="408.3" x2="1436.2" y2="429" stroke="#fff" stroke-opacity="0.55" stroke-width="14.4" stroke-linecap="round"/>
<line x1="1444.7" y1="408.3" x2="1436.2" y2="429" stroke="#0c5219" stroke-width="12.0" stroke-linecap="round"/>
<line x1="1444.7" y1="408.3" x2="1436.2" y2="429" stroke="#57b65a" stroke-width="8.8" stroke-linecap="round"/>
<line x1="1466.8" y1="408.3" x2="1463" y2="431.9" stroke="#fff" stroke-opacity="0.55" stroke-width="14.4" stroke-linecap="round"/>
<line x1="1466.8" y1="408.3" x2="1463" y2="431.9" stroke="#0c5219" stroke-width="12.0" stroke-linecap="round"/>
<line x1="1466.8" y1="408.3" x2="1463" y2="431.9" stroke="#57b65a" stroke-width="8.8" stroke-linecap="round"/>
<line x1="1489.1" y1="405.4" x2="1478.1" y2="424.8" stroke="#fff" stroke-opacity="0.55" stroke-width="14.4" stroke-linecap="round"/>
<line x1="1489.1" y1="405.4" x2="1478.1" y2="424.8" stroke="#0c5219" stroke-width="12.0" stroke-linecap="round"/>
<line x1="1489.1" y1="405.4" x2="1478.1" y2="424.8" stroke="#57b65a" stroke-width="8.8" stroke-linecap="round"/>
<line x1="1541.5" y1="415.7" x2="1537.9" y2="437.5" stroke="#fff" stroke-opacity="0.55" stroke-width="14.4" stroke-linecap="round"/>
<line x1="1541.5" y1="415.7" x2="1537.9" y2="437.5" stroke="#0c5219" stroke-width="12.0" stroke-linecap="round"/>
<line x1="1541.5" y1="415.7" x2="1537.9" y2="437.5" stroke="#57b65a" stroke-width="8.8" stroke-linecap="round"/>
<line x1="1580.9" y1="439.7" x2="1606.3" y2="442.2" stroke="#fff" stroke-opacity="0.55" stroke-width="14.4" stroke-linecap="round"/>
<line x1="1580.9" y1="439.7" x2="1606.3" y2="442.2" stroke="#0c5219" stroke-width="12.0" stroke-linecap="round"/>
<line x1="1580.9" y1="439.7" x2="1606.3" y2="442.2" stroke="#57b65a" stroke-width="8.8" stroke-linecap="round"/>
<line x1="1331.8" y1="444.7" x2="1310.4" y2="457.3" stroke="#fff" stroke-opacity="0.55" stroke-width="14.4" stroke-linecap="round"/>
<line x1="1331.8" y1="444.7" x2="1310.4" y2="457.3" stroke="#0c5219" stroke-width="12.0" stroke-linecap="round"/>
<line x1="1331.8" y1="444.7" x2="1310.4" y2="457.3" stroke="#57b65a" stroke-width="8.8" stroke-linecap="round"/>
<line x1="1367.9" y1="437.8" x2="1386.5" y2="452.8" stroke="#fff" stroke-opacity="0.55" stroke-width="14.4" stroke-linecap="round"/>
<line x1="1367.9" y1="437.8" x2="1386.5" y2="452.8" stroke="#0c5219" stroke-width="12.0" stroke-linecap="round"/>
<line x1="1367.9" y1="437.8" x2="1386.5" y2="452.8" stroke="#57b65a" stroke-width="8.8" stroke-linecap="round"/>
<line x1="1412.2" y1="440.3" x2="1435.6" y2="454.6" stroke="#fff" stroke-opacity="0.55" stroke-width="14.4" stroke-linecap="round"/>
<line x1="1412.2" y1="440.3" x2="1435.6" y2="454.6" stroke="#0c5219" stroke-width="12.0" stroke-linecap="round"/>
<line x1="1412.2" y1="440.3" x2="1435.6" y2="454.6" stroke="#57b65a" stroke-width="8.8" stroke-linecap="round"/>
<line x1="1488.7" y1="440.6" x2="1508.7" y2="454.3" stroke="#fff" stroke-opacity="0.55" stroke-width="14.4" stroke-linecap="round"/>
<line x1="1488.7" y1="440.6" x2="1508.7" y2="454.3" stroke="#0c5219" stroke-width="12.0" stroke-linecap="round"/>
<line x1="1488.7" y1="440.6" x2="1508.7" y2="454.3" stroke="#57b65a" stroke-width="8.8" stroke-linecap="round"/>
<line x1="1536.2" y1="448.7" x2="1560.5" y2="457.7" stroke="#fff" stroke-opacity="0.55" stroke-width="14.4" stroke-linecap="round"/>
<line x1="1536.2" y1="448.7" x2="1560.5" y2="457.7" stroke="#0c5219" stroke-width="12.0" stroke-linecap="round"/>
<line x1="1536.2" y1="448.7" x2="1560.5" y2="457.7" stroke="#57b65a" stroke-width="8.8" stroke-linecap="round"/>
<line x1="1354.8" y1="462.2" x2="1373.7" y2="478.7" stroke="#fff" stroke-opacity="0.55" stroke-width="14.4" stroke-linecap="round"/>
<line x1="1354.8" y1="462.2" x2="1373.7" y2="478.7" stroke="#0c5219" stroke-width="12.0" stroke-linecap="round"/>
<line x1="1354.8" y1="462.2" x2="1373.7" y2="478.7" stroke="#57b65a" stroke-width="8.8" stroke-linecap="round"/>
<line x1="1394" y1="476.7" x2="1376.3" y2="494.4" stroke="#fff" stroke-opacity="0.55" stroke-width="14.4" stroke-linecap="round"/>
<line x1="1394" y1="476.7" x2="1376.3" y2="494.4" stroke="#0c5219" stroke-width="12.0" stroke-linecap="round"/>
<line x1="1394" y1="476.7" x2="1376.3" y2="494.4" stroke="#57b65a" stroke-width="8.8" stroke-linecap="round"/>
<line x1="1429.9" y1="474.5" x2="1432.4" y2="498.1" stroke="#fff" stroke-opacity="0.55" stroke-width="14.4" stroke-linecap="round"/>
<line x1="1429.9" y1="474.5" x2="1432.4" y2="498.1" stroke="#0c5219" stroke-width="12.0" stroke-linecap="round"/>
<line x1="1429.9" y1="474.5" x2="1432.4" y2="498.1" stroke="#57b65a" stroke-width="8.8" stroke-linecap="round"/>
<line x1="1468.4" y1="469.7" x2="1484.5" y2="487" stroke="#fff" stroke-opacity="0.55" stroke-width="14.4" stroke-linecap="round"/>
<line x1="1468.4" y1="469.7" x2="1484.5" y2="487" stroke="#0c5219" stroke-width="12.0" stroke-linecap="round"/>
<line x1="1468.4" y1="469.7" x2="1484.5" y2="487" stroke="#57b65a" stroke-width="8.8" stroke-linecap="round"/>
<line x1="1560.5" y1="479.2" x2="1539" y2="491.9" stroke="#fff" stroke-opacity="0.55" stroke-width="14.4" stroke-linecap="round"/>
<line x1="1560.5" y1="479.2" x2="1539" y2="491.9" stroke="#0c5219" stroke-width="12.0" stroke-linecap="round"/>
<line x1="1560.5" y1="479.2" x2="1539" y2="491.9" stroke="#57b65a" stroke-width="8.8" stroke-linecap="round"/>
<line x1="1508.4" y1="479" x2="1504.8" y2="500.8" stroke="#fff" stroke-opacity="0.55" stroke-width="14.4" stroke-linecap="round"/>
<line x1="1508.4" y1="479" x2="1504.8" y2="500.8" stroke="#0c5219" stroke-width="12.0" stroke-linecap="round"/>
<line x1="1508.4" y1="479" x2="1504.8" y2="500.8" stroke="#57b65a" stroke-width="8.8" stroke-linecap="round"/>
<line x1="1619.2" y1="475.2" x2="1601.1" y2="487.3" stroke="#fff" stroke-opacity="0.55" stroke-width="14.4" stroke-linecap="round"/>
<line x1="1619.2" y1="475.2" x2="1601.1" y2="487.3" stroke="#0c5219" stroke-width="12.0" stroke-linecap="round"/>
<line x1="1619.2" y1="475.2" x2="1601.1" y2="487.3" stroke="#57b65a" stroke-width="8.8" stroke-linecap="round"/>
<line x1="1407.1" y1="494.5" x2="1396.2" y2="514" stroke="#fff" stroke-opacity="0.55" stroke-width="14.4" stroke-linecap="round"/>
<line x1="1407.1" y1="494.5" x2="1396.2" y2="514" stroke="#0c5219" stroke-width="12.0" stroke-linecap="round"/>
<line x1="1407.1" y1="494.5" x2="1396.2" y2="514" stroke="#57b65a" stroke-width="8.8" stroke-linecap="round"/>
<line x1="1479.1" y1="497.5" x2="1469.5" y2="516.7" stroke="#fff" stroke-opacity="0.55" stroke-width="14.4" stroke-linecap="round"/>
<line x1="1479.1" y1="497.5" x2="1469.5" y2="516.7" stroke="#0c5219" stroke-width="12.0" stroke-linecap="round"/>
<line x1="1479.1" y1="497.5" x2="1469.5" y2="516.7" stroke="#57b65a" stroke-width="8.8" stroke-linecap="round"/>
<line x1="1536.9" y1="513.2" x2="1529.5" y2="535.5" stroke="#fff" stroke-opacity="0.55" stroke-width="14.4" stroke-linecap="round"/>
<line x1="1536.9" y1="513.2" x2="1529.5" y2="535.5" stroke="#0c5219" stroke-width="12.0" stroke-linecap="round"/>
<line x1="1536.9" y1="513.2" x2="1529.5" y2="535.5" stroke="#57b65a" stroke-width="8.8" stroke-linecap="round"/>
<line x1="1359.5" y1="535.3" x2="1380.5" y2="545.1" stroke="#fff" stroke-opacity="0.55" stroke-width="14.4" stroke-linecap="round"/>
<line x1="1359.5" y1="535.3" x2="1380.5" y2="545.1" stroke="#0c5219" stroke-width="12.0" stroke-linecap="round"/>
<line x1="1359.5" y1="535.3" x2="1380.5" y2="545.1" stroke="#57b65a" stroke-width="8.8" stroke-linecap="round"/>
<line x1="1433.9" y1="538.3" x2="1413.9" y2="552.1" stroke="#fff" stroke-opacity="0.55" stroke-width="14.4" stroke-linecap="round"/>
<line x1="1433.9" y1="538.3" x2="1413.9" y2="552.1" stroke="#0c5219" stroke-width="12.0" stroke-linecap="round"/>
<line x1="1433.9" y1="538.3" x2="1413.9" y2="552.1" stroke="#57b65a" stroke-width="8.8" stroke-linecap="round"/>
<line x1="1487.1" y1="528.1" x2="1465.7" y2="540.7" stroke="#fff" stroke-opacity="0.55" stroke-width="14.4" stroke-linecap="round"/>
<line x1="1487.1" y1="528.1" x2="1465.7" y2="540.7" stroke="#0c5219" stroke-width="12.0" stroke-linecap="round"/>
<line x1="1487.1" y1="528.1" x2="1465.7" y2="540.7" stroke="#57b65a" stroke-width="8.8" stroke-linecap="round"/>
<line x1="1528.6" y1="534" x2="1509.1" y2="544.9" stroke="#fff" stroke-opacity="0.55" stroke-width="14.4" stroke-linecap="round"/>
<line x1="1528.6" y1="534" x2="1509.1" y2="544.9" stroke="#0c5219" stroke-width="12.0" stroke-linecap="round"/>
<line x1="1528.6" y1="534" x2="1509.1" y2="544.9" stroke="#57b65a" stroke-width="8.8" stroke-linecap="round"/>
<line x1="1453.8" y1="547.7" x2="1448.8" y2="571.5" stroke="#fff" stroke-opacity="0.55" stroke-width="14.4" stroke-linecap="round"/>
<line x1="1453.8" y1="547.7" x2="1448.8" y2="571.5" stroke="#0c5219" stroke-width="12.0" stroke-linecap="round"/>
<line x1="1453.8" y1="547.7" x2="1448.8" y2="571.5" stroke="#57b65a" stroke-width="8.8" stroke-linecap="round"/>
<polygon points="20.8,705.3 1687,612.8 1687,798.5" fill="#9b99b3" stroke="#8f8cab" stroke-width="1"/>
<text x="1211.7" y="669.5" font-size="25.7" fill="#000" textLength="112.1" lengthAdjust="spacingAndGlyphs" xml:space="preserve"><tspan font-style="normal" font-weight="normal">Cell yield</tspan></text>
<text x="1092.7" y="696.5" font-size="25.7" fill="#000" textLength="350.8" lengthAdjust="spacingAndGlyphs" xml:space="preserve"><tspan font-style="normal" font-weight="normal">Cell-specific EPS production</tspan></text>
<text x="1039.1" y="723.6" font-size="25.7" fill="#000" textLength="457.1" lengthAdjust="spacingAndGlyphs" xml:space="preserve"><tspan font-style="normal" font-weight="normal">Negatively charged functional groups</tspan></text>
<text x="1137.5" y="750.5" font-size="25.7" fill="#000" textLength="33.8" lengthAdjust="spacingAndGlyphs" xml:space="preserve"><tspan font-style="normal" font-weight="normal">Ca</tspan></text>
<text x="1172.4" y="744.2" font-size="15" fill="#000" textLength="16.7" lengthAdjust="spacingAndGlyphs" xml:space="preserve"><tspan font-style="normal" font-weight="normal">2+</tspan></text>
<text x="1189.4" y="750.5" font-size="25.7" fill="#000" textLength="208.2" lengthAdjust="spacingAndGlyphs" xml:space="preserve"><tspan font-style="normal" font-weight="normal">-binding capacity</tspan></text>
<rect x="1713.2" y="550.4" width="334.4" height="321.9" fill="#b5b5b5" stroke="#1a1a1a" stroke-width="2"/>
<rect x="1714.7" y="551.9" width="331.4" height="318.9" fill="none" stroke="#e0e0e0" stroke-width="1"/>
<text x="1828.6" y="592.3" font-size="28" fill="#000" textLength="102.3" lengthAdjust="spacingAndGlyphs" xml:space="preserve"><tspan font-style="normal" font-weight="bold">Legend</tspan></text>
<path d="M1741.5,636.1 C1742.4,636 1743.8,635.7 1745.5,636 C1747.2,636.3 1749.9,637 1751.5,637.8 C1753.1,638.5 1754.3,639.4 1755.2,640.3 C1756.2,641.1 1756.9,641.8 1757.5,642.8 C1758.1,643.8 1758.4,644.6 1758.8,646.3 C1759.2,648.1 1759.7,651.6 1759.9,653.4 C1760.1,655.1 1760,655.6 1759.9,656.6 C1759.8,657.7 1759.8,658.7 1759.5,659.7 C1759.1,660.6 1758.6,661.3 1757.9,662.2 C1757.2,663.1 1756.2,664.4 1755.2,665.2 C1754.3,666 1753,666.5 1751.9,667 C1750.8,667.5 1749.9,667.8 1748.6,668.2 C1747.3,668.7 1744.4,669.6 1744.4,669.6 C1744.4,669.6 1742.1,669.3 1741.1,669 C1740.1,668.6 1739.3,668.2 1738.4,667.5 C1737.6,666.7 1736.6,665.3 1736,664.7 C1735.3,664.1 1735,664.1 1734.4,663.8 C1733.8,663.5 1732.8,663.2 1732.2,662.7 C1731.6,662.1 1731.2,661.4 1730.9,660.4 C1730.6,659.4 1730.4,657.7 1730.4,656.6 C1730.4,655.6 1730.9,655.1 1730.9,654.1 C1730.9,653.2 1730.6,651.9 1730.4,650.8 C1730.3,649.8 1730.1,648.2 1730.1,647.6 C1730.1,646.9 1730.3,647.2 1730.7,646.8 C1731,646.5 1731.8,646.2 1732.2,645.6 C1732.6,644.9 1732.8,643.7 1733.1,642.8 C1733.4,641.9 1733.5,641 1734.2,640.3 C1734.9,639.5 1736.5,638.9 1737.5,638.3 C1738.6,637.6 1739.7,636.9 1740.4,636.5 C1741.1,636.1 1740.7,636.1 1741.5,636.1 Z" fill="#dcd4cf" stroke="#c9c4c0" stroke-opacity="0.5" stroke-width="0.8"/>
<path d="M1783,636.9 C1784.2,636.8 1785.9,636.6 1787.6,636.9 C1789.3,637.2 1791.6,637.8 1793.2,638.4 C1794.7,639.1 1795.7,639.9 1796.7,640.7 C1797.7,641.4 1798.3,642 1798.9,642.8 C1799.5,643.6 1800.1,644.7 1800.5,645.6 C1800.8,646.5 1800.7,646.9 1800.9,648.2 C1801.1,649.5 1801.4,652.2 1801.6,653.6 C1801.7,655 1801.9,655.7 1801.8,656.7 C1801.7,657.7 1801.5,658.6 1801.1,659.5 C1800.8,660.4 1800.3,661.2 1799.6,662.1 C1798.8,663 1797.7,664.2 1796.7,664.9 C1795.7,665.7 1794.6,666.1 1793.4,666.6 C1792.2,667.1 1790.9,667.6 1789.6,668 C1788.4,668.5 1785.9,669.3 1785.9,669.3 C1785.9,669.3 1783.6,669.1 1782.5,668.7 C1781.5,668.3 1780.5,667.6 1779.6,667.1 C1778.8,666.5 1778.1,666 1777.4,665.4 C1776.7,664.8 1776.1,664.1 1775.4,663.6 C1774.7,663.2 1773.9,663.3 1773.2,662.8 C1772.6,662.3 1772,661.7 1771.7,660.7 C1771.3,659.7 1771.2,657.8 1771.2,656.7 C1771.2,655.6 1771.7,655.2 1771.7,654.3 C1771.6,653.4 1771.1,652.3 1771,651.3 C1770.9,650.3 1770.9,648.8 1770.9,648.2 C1770.9,647.6 1770.8,647.9 1771.2,647.5 C1771.7,647.2 1772.9,646.9 1773.4,646.1 C1774,645.3 1774.4,643.4 1774.8,642.6 C1775.1,641.7 1774.9,641.5 1775.4,640.9 C1776,640.3 1777.2,639.6 1778.1,639 C1778.9,638.5 1779.7,638.1 1780.5,637.7 C1781.3,637.4 1781.8,637 1783,636.9 Z" fill="#c4ae9d" stroke="#c9c4c0" stroke-opacity="0.5" stroke-width="0.8"/>
<path d="M1823.1,636.1 C1824.4,635.9 1826.3,635.9 1827.9,636 C1829.5,636.1 1831.3,636.5 1832.7,637 C1834,637.5 1834.9,638.3 1835.9,639 C1836.9,639.6 1837.9,640.2 1838.7,640.9 C1839.5,641.6 1840.2,642.4 1840.7,643.1 C1841.1,643.9 1841.1,644 1841.3,645.4 C1841.6,646.7 1842,649.3 1842.2,651 C1842.4,652.8 1842.6,654.6 1842.6,656 C1842.6,657.3 1842.5,658.2 1842.2,659.2 C1841.9,660.1 1841.4,660.8 1840.9,661.6 C1840.3,662.4 1839.5,663.3 1838.7,664.1 C1837.9,664.9 1836.9,665.7 1835.9,666.3 C1834.9,666.9 1833.5,667.4 1832.4,667.8 C1831.4,668.2 1830.4,668.2 1829.4,668.5 C1828.4,668.9 1826.6,670 1826.6,670 C1826.6,670 1824.7,669.7 1823.8,669.3 C1822.9,668.9 1822,668.2 1821.2,667.5 C1820.4,666.9 1819.6,666 1818.8,665.3 C1818.1,664.7 1817.4,664 1816.7,663.7 C1815.9,663.4 1815.1,663.6 1814.5,663.3 C1813.9,663.1 1813.4,662.8 1813,662.1 C1812.6,661.4 1812.3,660.2 1812.2,659.2 C1812.1,658.1 1812.3,656.7 1812.3,656 C1812.4,655.2 1812.8,655.2 1812.8,654.5 C1812.7,653.8 1812.1,652.8 1811.9,651.8 C1811.7,650.7 1811.7,648.9 1811.8,648.1 C1811.9,647.3 1812.4,647.4 1812.8,646.8 C1813.2,646.3 1813.8,645.9 1814.3,644.9 C1814.8,643.8 1815,641.6 1815.6,640.7 C1816.1,639.7 1816.7,639.7 1817.5,639.2 C1818.3,638.7 1819.4,638 1820.3,637.5 C1821.3,637 1821.9,636.4 1823.1,636.1 Z" fill="#a78878" stroke="#c9c4c0" stroke-opacity="0.5" stroke-width="0.8"/>
<text x="1856.8" y="661.3" font-size="22.6" fill="#000" textLength="45.4" lengthAdjust="spacingAndGlyphs" xml:space="preserve"><tspan font-style="normal" font-weight="normal">EPS</tspan></text>
<line x1="1744.9" y1="705.6" x2="1733.3" y2="718.6" stroke="#d8d8d8" stroke-opacity="0.6" stroke-width="10.6" stroke-linecap="round"/>
<line x1="1744.9" y1="705.6" x2="1733.3" y2="718.6" stroke="#0c5219" stroke-width="9" stroke-linecap="round"/>
<line x1="1744.9" y1="705.6" x2="1733.3" y2="718.6" stroke="#57b65a" stroke-width="6.4" stroke-linecap="round"/>
<text x="1763.6" y="719" font-size="22.6" fill="#000" textLength="211.8" lengthAdjust="spacingAndGlyphs" xml:space="preserve"><tspan font-style="italic" font-weight="normal">Synechococcus</tspan><tspan font-style="normal" font-weight="normal"> cells</tspan></text>
<path d="M1729.2,763 L1733.1,766.4 L1738.4,764.2 L1738.4,759.4 M1738.4,764.2 L1740.6,766.7 L1745.5,765.2 L1746.2,761.1 M1745.5,765.2 L1748.6,768.6 L1752.5,768.2 M1748.6,768.6 L1747.2,772.2 L1743.3,773.4 L1740.1,770.5 L1740.6,766.7 M1733.1,766.4 L1732.4,768.8 L1735.5,772.4 L1740.1,770.5 M1732.4,768.8 L1726.3,769.6 L1725.1,768.3 M1726.3,769.6 L1727,774.2 L1729.5,776.4 L1733.8,776.4 L1735.5,772.4 M1729.5,776.4 L1728.3,780.7 L1731.4,783.4 L1735.8,782.4 L1736.7,778.9 L1733.8,776.4 M1736.7,778.9 L1743.3,777.1 L1743.3,773.4 M1747.2,772.2 L1750.1,775.4 L1753.7,774.4 M1750.1,775.4 L1749.9,778.3 L1752.5,779.5 M1749.9,778.3 L1746.5,780.4 L1743.3,777.1 M1746.5,780.4 L1745.2,782.2 L1747.7,783.9 M1745.2,782.2 L1737.7,784.4 L1737.5,786.3 M1737.7,784.4 L1735.8,782.4 M1728.3,780.7 L1727,781.2" fill="none" stroke="#fff" stroke-opacity="0.5" stroke-width="2.6" stroke-linejoin="round" stroke-linecap="butt"/>
<path d="M1729.2,763 L1733.1,766.4 L1738.4,764.2 L1738.4,759.4 M1738.4,764.2 L1740.6,766.7 L1745.5,765.2 L1746.2,761.1 M1745.5,765.2 L1748.6,768.6 L1752.5,768.2 M1748.6,768.6 L1747.2,772.2 L1743.3,773.4 L1740.1,770.5 L1740.6,766.7 M1733.1,766.4 L1732.4,768.8 L1735.5,772.4 L1740.1,770.5 M1732.4,768.8 L1726.3,769.6 L1725.1,768.3 M1726.3,769.6 L1727,774.2 L1729.5,776.4 L1733.8,776.4 L1735.5,772.4 M1729.5,776.4 L1728.3,780.7 L1731.4,783.4 L1735.8,782.4 L1736.7,778.9 L1733.8,776.4 M1736.7,778.9 L1743.3,777.1 L1743.3,773.4 M1747.2,772.2 L1750.1,775.4 L1753.7,774.4 M1750.1,775.4 L1749.9,778.3 L1752.5,779.5 M1749.9,778.3 L1746.5,780.4 L1743.3,777.1 M1746.5,780.4 L1745.2,782.2 L1747.7,783.9 M1745.2,782.2 L1737.7,784.4 L1737.5,786.3 M1737.7,784.4 L1735.8,782.4 M1728.3,780.7 L1727,781.2" fill="none" stroke="#3c3c3c" stroke-width="1.0" stroke-linejoin="round" stroke-linecap="butt"/>
<text x="1762.1" y="779.8" font-size="22.6" fill="#000" textLength="273.2" lengthAdjust="spacingAndGlyphs" xml:space="preserve"><tspan font-style="normal" font-weight="normal">Negatively charged groups</tspan></text>
<polygon points="1731.1,825.5 1739.3,814.2 1753.9,817 1746.8,828" fill="#707070" stroke="#3d3d3d" stroke-width="1" stroke-linejoin="round"/>
<polygon points="1731.1,825.5 1746.8,828 1747.3,841.8 1730.3,838.4" fill="#a9a9a9" stroke="#3d3d3d" stroke-width="1" stroke-linejoin="round"/>
<polygon points="1746.8,828 1753.9,817 1752.9,832.3 1747.3,841.8" fill="#474747" stroke="#3d3d3d" stroke-width="1" stroke-linejoin="round"/>
<text x="1765.7" y="834.5" font-size="22.6" fill="#000" textLength="154.9" lengthAdjust="spacingAndGlyphs" xml:space="preserve"><tspan font-style="normal" font-weight="normal">Calcite crystals</tspan></text>
<text x="645.7" y="872" font-size="56" fill="#000" textLength="151" lengthAdjust="spacingAndGlyphs" xml:space="preserve"><tspan font-style="normal" font-weight="bold">CaCO</tspan></text>
<text x="797.6" y="890.6" font-size="25" fill="#000" textLength="16.5" lengthAdjust="spacingAndGlyphs" xml:space="preserve"><tspan font-style="normal" font-weight="bold">3</tspan></text>
<text x="830.5" y="872" font-size="56" fill="#000" textLength="326.7" lengthAdjust="spacingAndGlyphs" xml:space="preserve"><tspan font-style="normal" font-weight="bold">precipitation</tspan></text>
<text x="210.6" y="963" font-size="44" fill="#000" textLength="111.7" lengthAdjust="spacingAndGlyphs" xml:space="preserve"><tspan font-style="normal" font-weight="normal">Large</tspan></text>
<text x="831.8" y="963.1" font-size="44" fill="#000" textLength="156" lengthAdjust="spacingAndGlyphs" xml:space="preserve"><tspan font-style="normal" font-weight="normal">Medium</tspan></text>
<text x="1461.2" y="963" font-size="44" fill="#000" textLength="109.7" lengthAdjust="spacingAndGlyphs" xml:space="preserve"><tspan font-style="normal" font-weight="normal">Small</tspan></text>
<text x="265.5" y="1005.3" font-size="35.7" fill="#000" textLength="17.9" lengthAdjust="spacingAndGlyphs" xml:space="preserve"><tspan font-style="normal" font-weight="normal">></tspan></text>
<text x="867.8" y="1004.6" font-size="32.5" fill="#000" textLength="91.6" lengthAdjust="spacingAndGlyphs" xml:space="preserve"><tspan font-style="normal" font-weight="normal">50 µm</tspan></text>
<text x="1506.3" y="1005.3" font-size="35.7" fill="#000" textLength="17.7" lengthAdjust="spacingAndGlyphs" xml:space="preserve"><tspan font-style="normal" font-weight="normal"><</tspan></text>
<polygon points="176.5,1084 191.2,1035.5 253.2,1021.7 249.2,1068.4" fill="#717171" stroke="#3d3d3d" stroke-width="1" stroke-linejoin="round"/>
<polygon points="176.5,1084 249.2,1068.4 266.5,1117.8 195.5,1133.1" fill="#a6a6a6" stroke="#3d3d3d" stroke-width="1" stroke-linejoin="round"/>
<polygon points="249.2,1068.4 253.2,1021.7 272.6,1075.4 266.5,1117.8" fill="#4c4c4c" stroke="#3d3d3d" stroke-width="1" stroke-linejoin="round"/>
<polygon points="291.3,1056.8 327.2,1016.5 388.7,1026 362.4,1067.2" fill="#717171" stroke="#3d3d3d" stroke-width="1" stroke-linejoin="round"/>
<polygon points="291.3,1056.8 362.4,1067.2 354.9,1120.4 283.9,1108.3" fill="#a6a6a6" stroke="#3d3d3d" stroke-width="1" stroke-linejoin="round"/>
<polygon points="362.4,1067.2 388.7,1026 381.4,1082.8 354.9,1120.4" fill="#4c4c4c" stroke="#3d3d3d" stroke-width="1" stroke-linejoin="round"/>
<polygon points="226.7,1172.4 257.4,1127 325.5,1130.3 306.4,1176.4" fill="#717171" stroke="#3d3d3d" stroke-width="1" stroke-linejoin="round"/>
<polygon points="226.7,1172.4 306.4,1176.4 308.1,1231.3 229.8,1226.6" fill="#a6a6a6" stroke="#3d3d3d" stroke-width="1" stroke-linejoin="round"/>
<polygon points="306.4,1176.4 325.5,1130.3 328.1,1189.7 308.1,1231.3" fill="#4c4c4c" stroke="#3d3d3d" stroke-width="1" stroke-linejoin="round"/>
<polygon points="880.7,1058.9 896.4,1033.3 931.7,1034.2 922.3,1059.9" fill="#717171" stroke="#3d3d3d" stroke-width="1" stroke-linejoin="round"/>
<polygon points="880.7,1058.9 922.3,1059.9 923.8,1090.4 883,1088.6" fill="#a6a6a6" stroke="#3d3d3d" stroke-width="1" stroke-linejoin="round"/>
<polygon points="922.3,1059.9 931.7,1034.2 934,1066.5 923.8,1090.4" fill="#4c4c4c" stroke="#3d3d3d" stroke-width="1" stroke-linejoin="round"/>
<polygon points="810.2,1106.9 824.3,1079.9 859.8,1079.1 852.2,1105.7" fill="#717171" stroke="#3d3d3d" stroke-width="1" stroke-linejoin="round"/>
<polygon points="810.2,1106.9 852.2,1105.7 855.5,1135.5 814.4,1136.2" fill="#a6a6a6" stroke="#3d3d3d" stroke-width="1" stroke-linejoin="round"/>
<polygon points="852.2,1105.7 859.8,1079.1 863.6,1111.5 855.5,1135.5" fill="#4c4c4c" stroke="#3d3d3d" stroke-width="1" stroke-linejoin="round"/>
<polygon points="972.1,1081.4 991.6,1058.1 1026.7,1064.2 1012.7,1087.8" fill="#717171" stroke="#3d3d3d" stroke-width="1" stroke-linejoin="round"/>
<polygon points="972.1,1081.4 1012.7,1087.8 1010.4,1118.3 970.3,1111.2" fill="#a6a6a6" stroke="#3d3d3d" stroke-width="1" stroke-linejoin="round"/>
<polygon points="1012.7,1087.8 1026.7,1064.2 1024.4,1097.7 1010.4,1118.3" fill="#4c4c4c" stroke="#3d3d3d" stroke-width="1" stroke-linejoin="round"/>
<polygon points="836.2,1168.6 852.9,1143.2 888.3,1145.3 877.6,1170.6" fill="#717171" stroke="#3d3d3d" stroke-width="1" stroke-linejoin="round"/>
<polygon points="836.2,1168.6 877.6,1170.6 878.5,1200.6 838,1198" fill="#a6a6a6" stroke="#3d3d3d" stroke-width="1" stroke-linejoin="round"/>
<polygon points="877.6,1170.6 888.3,1145.3 889.5,1177.8 878.5,1200.6" fill="#4c4c4c" stroke="#3d3d3d" stroke-width="1" stroke-linejoin="round"/>
<polygon points="904,1194.5 923,1171.4 957.8,1177 943.2,1200.6" fill="#717171" stroke="#3d3d3d" stroke-width="1" stroke-linejoin="round"/>
<polygon points="904,1194.5 943.2,1200.6 941.6,1231.1 901.4,1224.3" fill="#a6a6a6" stroke="#3d3d3d" stroke-width="1" stroke-linejoin="round"/>
<polygon points="943.2,1200.6 957.8,1177 955.4,1209.8 941.6,1231.1" fill="#4c4c4c" stroke="#3d3d3d" stroke-width="1" stroke-linejoin="round"/>
<polygon points="962.4,1172.4 978.4,1147.6 1014.5,1149.3 1003.4,1174.7" fill="#717171" stroke="#3d3d3d" stroke-width="1" stroke-linejoin="round"/>
<polygon points="962.4,1172.4 1003.4,1174.7 1005.1,1204.8 963.9,1201.9" fill="#a6a6a6" stroke="#3d3d3d" stroke-width="1" stroke-linejoin="round"/>
<polygon points="1003.4,1174.7 1014.5,1149.3 1015.6,1181.3 1005.1,1204.8" fill="#4c4c4c" stroke="#3d3d3d" stroke-width="1" stroke-linejoin="round"/>
<polygon points="895.3,1114.2 927.6,1104.1 953.5,1107.7 923.8,1116.8" fill="#4e4e4e" stroke="#3d3d3d" stroke-width="1" stroke-linejoin="round"/>
<polygon points="895.3,1114.2 923.8,1116.8 932.2,1155.4 902.5,1147.3" fill="#717171" stroke="#3d3d3d" stroke-width="1" stroke-linejoin="round"/>
<polygon points="923.8,1116.8 953.5,1107.7 962.2,1145.3 932.2,1155.4" fill="#a6a6a6" stroke="#3d3d3d" stroke-width="1" stroke-linejoin="round"/>
<polygon points="1550.1,1040 1563.2,1022.7 1585.5,1026.9 1576.1,1044.5" fill="#717171" stroke="#3d3d3d" stroke-width="1" stroke-linejoin="round"/>
<polygon points="1550.1,1040 1576.1,1044.5 1574.7,1066.6 1549.1,1061.6" fill="#a6a6a6" stroke="#3d3d3d" stroke-width="1" stroke-linejoin="round"/>
<polygon points="1576.1,1044.5 1585.5,1026.9 1584.2,1050.4 1574.7,1066.6" fill="#4c4c4c" stroke="#3d3d3d" stroke-width="1" stroke-linejoin="round"/>
<polygon points="1446.1,1072.8 1457.8,1055.1 1480.4,1058.5 1472,1076.1" fill="#717171" stroke="#3d3d3d" stroke-width="1" stroke-linejoin="round"/>
<polygon points="1446.1,1072.8 1472,1076.1 1470.9,1098.5 1445,1094.5" fill="#a6a6a6" stroke="#3d3d3d" stroke-width="1" stroke-linejoin="round"/>
<polygon points="1472,1076.1 1480.4,1058.5 1479.5,1082.6 1470.9,1098.5" fill="#4c4c4c" stroke="#3d3d3d" stroke-width="1" stroke-linejoin="round"/>
<polygon points="1510.1,1076.9 1520,1058.5 1542.7,1058.9 1536.6,1077.4" fill="#717171" stroke="#3d3d3d" stroke-width="1" stroke-linejoin="round"/>
<polygon points="1510.1,1076.9 1536.6,1077.4 1537.6,1099.9 1511.2,1098.1" fill="#a6a6a6" stroke="#3d3d3d" stroke-width="1" stroke-linejoin="round"/>
<polygon points="1536.6,1077.4 1542.7,1058.9 1544.3,1083.2 1537.6,1099.9" fill="#4c4c4c" stroke="#3d3d3d" stroke-width="1" stroke-linejoin="round"/>
<polygon points="1550.1,1092.3 1562.6,1074.9 1585.3,1079.2 1575.7,1096.4" fill="#717171" stroke="#3d3d3d" stroke-width="1" stroke-linejoin="round"/>
<polygon points="1550.1,1092.3 1575.7,1096.4 1574.7,1118.4 1549.1,1113.4" fill="#a6a6a6" stroke="#3d3d3d" stroke-width="1" stroke-linejoin="round"/>
<polygon points="1575.7,1096.4 1585.3,1079.2 1583.9,1102.8 1574.7,1118.4" fill="#4c4c4c" stroke="#3d3d3d" stroke-width="1" stroke-linejoin="round"/>
<polygon points="1407.2,1112 1416.4,1092.4 1438.9,1092 1434.5,1111.2" fill="#717171" stroke="#3d3d3d" stroke-width="1" stroke-linejoin="round"/>
<polygon points="1407.2,1112 1434.5,1111.2 1436.2,1133 1409.5,1133.6" fill="#a6a6a6" stroke="#3d3d3d" stroke-width="1" stroke-linejoin="round"/>
<polygon points="1434.5,1111.2 1438.9,1092 1441.9,1115.7 1436.2,1133" fill="#4c4c4c" stroke="#3d3d3d" stroke-width="1" stroke-linejoin="round"/>
<polygon points="1454.7,1122.8 1463.2,1103.5 1486.6,1103.1 1481.2,1122" fill="#717171" stroke="#3d3d3d" stroke-width="1" stroke-linejoin="round"/>
<polygon points="1454.7,1122.8 1481.2,1122 1483.5,1144.1 1456.9,1144.1" fill="#a6a6a6" stroke="#3d3d3d" stroke-width="1" stroke-linejoin="round"/>
<polygon points="1481.2,1122 1486.6,1103.1 1489.2,1126.5 1483.5,1144.1" fill="#4c4c4c" stroke="#3d3d3d" stroke-width="1" stroke-linejoin="round"/>
<polygon points="1568.4,1138 1582.2,1122.2 1604.2,1128.5 1593,1143.1" fill="#717171" stroke="#3d3d3d" stroke-width="1" stroke-linejoin="round"/>
<polygon points="1568.4,1138 1593,1143.1 1589.6,1166.4 1564.6,1158.6" fill="#a6a6a6" stroke="#3d3d3d" stroke-width="1" stroke-linejoin="round"/>
<polygon points="1593,1143.1 1604.2,1128.5 1601.1,1151.5 1589.6,1166.4" fill="#4c4c4c" stroke="#3d3d3d" stroke-width="1" stroke-linejoin="round"/>
<polygon points="1435.8,1163.4 1446.6,1145 1468.9,1146.1 1462.6,1164.3" fill="#717171" stroke="#3d3d3d" stroke-width="1" stroke-linejoin="round"/>
<polygon points="1435.8,1163.4 1462.6,1164.3 1463.2,1186.6 1436.6,1184.6" fill="#a6a6a6" stroke="#3d3d3d" stroke-width="1" stroke-linejoin="round"/>
<polygon points="1462.6,1164.3 1468.9,1146.1 1470,1169.7 1463.2,1186.6" fill="#4c4c4c" stroke="#3d3d3d" stroke-width="1" stroke-linejoin="round"/>
<polygon points="1490.7,1169.7 1501.5,1151.8 1523.8,1152.8 1516.9,1171.8" fill="#717171" stroke="#3d3d3d" stroke-width="1" stroke-linejoin="round"/>
<polygon points="1490.7,1169.7 1516.9,1171.8 1517.7,1193.1 1491.4,1191.4" fill="#a6a6a6" stroke="#3d3d3d" stroke-width="1" stroke-linejoin="round"/>
<polygon points="1516.9,1171.8 1523.8,1152.8 1524.7,1176.5 1517.7,1193.1" fill="#4c4c4c" stroke="#3d3d3d" stroke-width="1" stroke-linejoin="round"/>
<polygon points="1504.7,1119.3 1525.8,1112.3 1541.4,1115 1522.7,1121.1" fill="#4e4e4e" stroke="#3d3d3d" stroke-width="1" stroke-linejoin="round"/>
<polygon points="1504.7,1119.3 1522.7,1121.1 1528.5,1149.5 1509.2,1143.6" fill="#717171" stroke="#3d3d3d" stroke-width="1" stroke-linejoin="round"/>
<polygon points="1522.7,1121.1 1541.4,1115 1547.7,1142 1528.5,1149.5" fill="#a6a6a6" stroke="#3d3d3d" stroke-width="1" stroke-linejoin="round"/>
<polygon points="1472.7,1040.7 1486.6,1022.4 1497.4,1039.3 1480.8,1058.5" fill="#717171" stroke="#3d3d3d" stroke-width="1" stroke-linejoin="round"/>
<polygon points="1486.6,1022.4 1506.9,1035.3 1516.6,1049.9 1497.4,1039.3" fill="#4e4e4e" stroke="#3d3d3d" stroke-width="1" stroke-linejoin="round"/>
<polygon points="1480.8,1058.5 1497.4,1039.3 1516.6,1049.9 1500.1,1070.8" fill="#a6a6a6" stroke="#3d3d3d" stroke-width="1" stroke-linejoin="round"/>
<polygon points="1533.5,1164.7 1551.8,1150.5 1558.2,1169.1 1538,1184.2" fill="#717171" stroke="#3d3d3d" stroke-width="1" stroke-linejoin="round"/>
<polygon points="1551.8,1150.5 1568,1167.7 1574.1,1184.3 1558.2,1169.1" fill="#4e4e4e" stroke="#3d3d3d" stroke-width="1" stroke-linejoin="round"/>
<polygon points="1538,1184.2 1558.2,1169.1 1574.1,1184.3 1553.4,1200.5" fill="#a6a6a6" stroke="#3d3d3d" stroke-width="1" stroke-linejoin="round"/>
<polygon points="16.9,1275.9 1677,1323 16.9,1370.1" fill="#d6a5ac"/>
<polygon points="18.6,1377.8 1678.5,1331.1 1678.5,1424.9" fill="#a8d4d0"/>
<text x="502.9" y="1336.2" font-size="32.5" fill="#000" textLength="167" lengthAdjust="spacingAndGlyphs" xml:space="preserve"><tspan font-style="normal" font-weight="normal">Crystal size</tspan></text>
<text x="943.8" y="1387.7" font-size="30.5" fill="#000" textLength="497.7" lengthAdjust="spacingAndGlyphs" xml:space="preserve"><tspan font-style="normal" font-weight="normal">Number of crystals by surface area</tspan></text>
</svg></body></html>
